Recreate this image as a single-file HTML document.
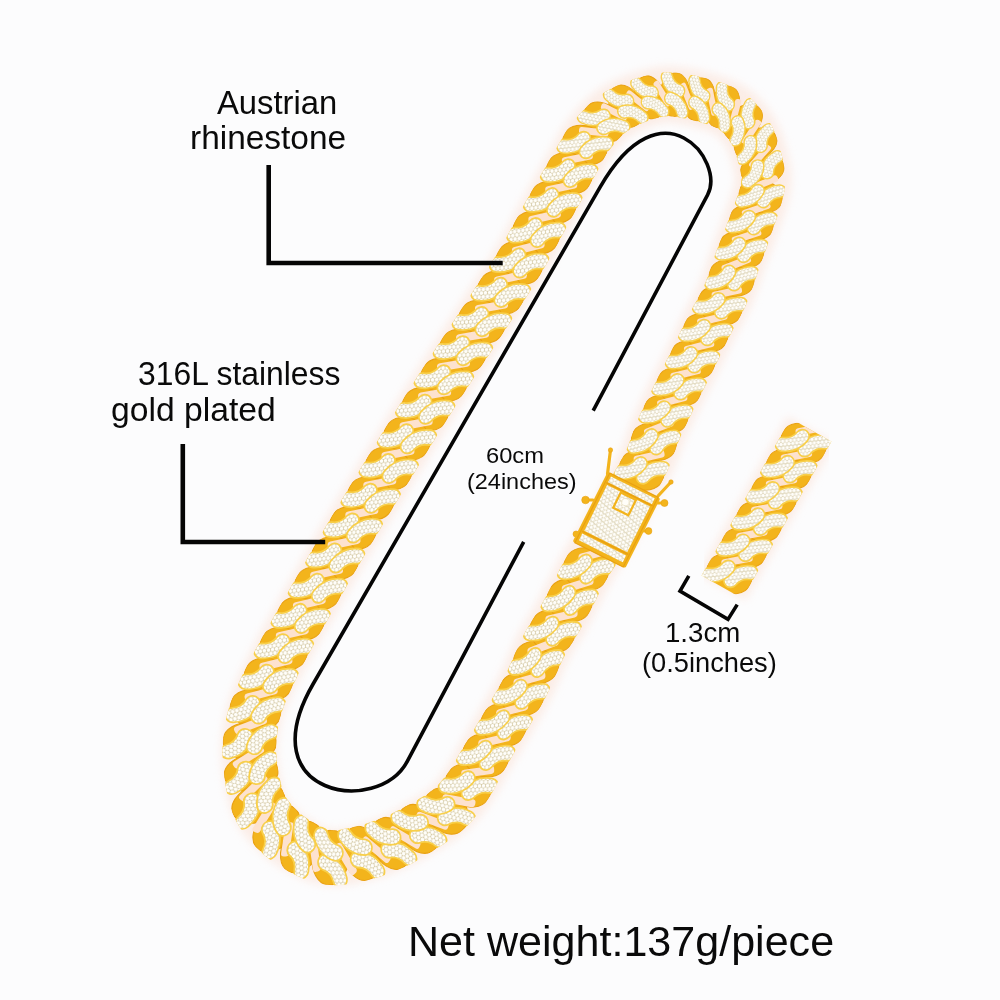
<!DOCTYPE html><html><head><meta charset="utf-8"><style>
html,body{margin:0;padding:0;width:1000px;height:1000px;overflow:hidden;background:#fcfcfd}
.t{position:absolute;font-family:"Liberation Sans",sans-serif;color:#0a0a0a;white-space:nowrap;line-height:1;transform-origin:0 0}
</style></head><body>
<svg width="1000" height="1000" viewBox="0 0 1000 1000" style="position:absolute;left:0;top:0"><defs><pattern id="st" width="4" height="6.9" patternUnits="userSpaceOnUse" patternTransform="rotate(15)"><rect width="4" height="6.9" fill="#d6cba8"/><circle cx="2" cy="1.72" r="1.78" fill="#fffefa"/><circle cx="0" cy="5.17" r="1.78" fill="#fffefa"/><circle cx="4" cy="5.17" r="1.78" fill="#fffefa"/></pattern><filter id="glow" x="-20%" y="-20%" width="140%" height="140%"><feGaussianBlur stdDeviation="4"/></filter><clipPath id="cc"><path d="M784.7,188.5 L785.0,185.4 L785.2,182.3 L785.2,179.4 L785.2,176.5 L785.1,173.7 L784.8,171.1 L784.5,168.5 L784.1,166.1 L783.7,163.8 L783.3,161.6 L782.8,159.5 L782.3,157.5 L781.8,155.7 L781.4,153.9 L781.0,152.2 L780.5,150.5 L780.0,148.5 L779.5,146.6 L778.9,144.6 L778.3,142.5 L777.7,140.5 L777.0,138.4 L776.2,136.3 L775.4,134.1 L774.6,132.0 L773.6,129.8 L772.6,127.6 L771.5,125.4 L770.3,123.2 L769.0,121.0 L767.7,118.8 L766.4,117.0 L765.3,115.4 L764.1,113.7 L762.9,112.0 L761.5,110.2 L760.1,108.3 L758.5,106.4 L756.8,104.4 L754.9,102.4 L752.9,100.5 L750.8,98.5 L748.5,96.6 L746.0,94.7 L743.5,92.9 L740.7,91.2 L737.8,89.6 L734.8,88.0 L731.7,86.6 L728.4,85.3 L725.1,84.0 L721.7,82.8 L718.2,81.7 L714.6,80.6 L711.0,79.6 L707.4,78.6 L703.7,77.7 L700.1,76.9 L696.5,76.1 L693.0,75.3 L689.6,74.7 L686.3,74.1 L683.1,73.6 L680.0,73.1 L677.1,72.8 L674.2,72.6 L671.4,72.4 L668.7,72.4 L666.0,72.4 L663.4,72.5 L660.9,72.7 L658.4,73.0 L656.0,73.4 L653.8,73.8 L651.6,74.2 L649.5,74.7 L647.5,75.2 L645.5,75.8 L643.5,76.3 L641.4,76.9 L639.0,77.6 L636.6,78.3 L634.1,79.1 L631.6,79.9 L629.1,80.8 L626.6,81.7 L624.0,82.7 L621.4,83.8 L618.9,84.9 L616.3,86.0 L613.7,87.3 L611.2,88.6 L608.7,89.9 L606.1,91.3 L603.7,92.8 L601.2,94.5 L598.7,96.2 L596.4,98.0 L594.1,99.8 L592.0,101.6 L590.0,103.5 L588.0,105.3 L586.1,107.2 L584.3,109.0 L582.6,110.9 L581.0,112.7 L579.4,114.5 L577.9,116.2 L576.5,117.8 L575.1,119.4 L573.9,120.9 L572.6,122.5 L571.2,124.2 L570.0,125.7 L568.8,127.3 L567.7,128.8 L566.7,130.3 L565.8,131.8 L564.9,133.2 L564.2,134.5 L563.5,135.7 L562.8,136.9 L562.1,138.1 L561.4,139.4 L560.6,140.9 L559.7,142.4 L558.6,144.2 L557.4,146.3 L556.0,148.8 L554.4,151.5 L552.7,154.3 L550.9,157.4 L549.1,160.6 L547.2,163.9 L545.2,167.4 L543.2,170.9 L541.1,174.5 L539.1,178.1 L537.0,181.7 L534.9,185.4 L532.9,189.0 L530.9,192.5 L528.9,196.0 L527.0,199.4 L525.1,202.7 L523.3,206.1 L521.5,209.4 L519.7,212.6 L518.0,215.8 L516.3,219.0 L514.6,222.2 L512.9,225.4 L511.2,228.5 L509.5,231.7 L507.8,234.8 L506.0,238.0 L504.2,241.2 L502.3,244.5 L500.4,247.7 L498.5,251.1 L496.4,254.5 L494.3,258.0 L492.1,261.4 L489.9,265.0 L487.7,268.5 L485.4,272.1 L483.0,275.8 L480.6,279.5 L478.2,283.2 L475.7,287.0 L473.2,290.9 L470.7,294.8 L468.1,298.7 L465.5,302.8 L462.8,306.9 L460.1,311.0 L457.5,315.1 L454.7,319.4 L451.8,323.8 L448.9,328.2 L446.0,332.7 L443.0,337.3 L440.0,341.9 L436.9,346.6 L433.9,351.2 L430.8,355.9 L427.8,360.6 L424.8,365.2 L421.8,369.8 L418.9,374.3 L416.0,378.8 L413.2,383.2 L410.5,387.4 L407.8,391.7 L405.2,395.8 L402.7,399.9 L400.1,404.0 L397.6,408.0 L395.1,412.1 L392.7,416.0 L390.2,420.0 L387.8,424.0 L385.3,428.0 L382.9,432.0 L380.4,436.1 L377.9,440.2 L375.4,444.3 L372.8,448.5 L370.2,452.7 L367.6,457.0 L364.9,461.4 L362.3,465.8 L359.6,470.2 L356.9,474.6 L354.2,479.1 L351.5,483.6 L348.7,488.0 L346.1,492.5 L343.4,497.0 L340.7,501.4 L338.1,505.8 L335.5,510.2 L332.9,514.5 L330.3,518.8 L327.8,523.0 L325.3,527.3 L322.9,531.5 L320.4,535.7 L318.0,539.8 L315.6,544.0 L313.2,548.1 L310.8,552.2 L308.5,556.3 L306.2,560.4 L303.9,564.4 L301.6,568.4 L299.3,572.4 L297.0,576.3 L294.8,580.3 L292.5,584.1 L290.3,588.0 L288.1,591.9 L285.9,595.7 L283.6,599.6 L281.4,603.5 L279.2,607.3 L277.0,611.1 L274.8,614.9 L272.7,618.7 L270.6,622.4 L268.5,626.1 L266.5,629.7 L264.5,633.3 L262.5,636.8 L260.6,640.3 L258.8,643.7 L257.0,646.9 L255.3,650.1 L253.6,653.3 L251.9,656.5 L250.3,659.5 L248.7,662.6 L247.2,665.6 L245.7,668.5 L244.2,671.5 L242.8,674.3 L241.4,677.2 L240.1,680.0 L238.8,682.7 L237.5,685.5 L236.3,688.2 L235.2,690.8 L234.2,693.3 L233.2,695.8 L232.3,698.2 L231.4,700.5 L230.6,702.8 L229.8,705.0 L229.1,707.3 L228.5,709.5 L227.9,711.6 L227.3,713.8 L226.8,715.9 L226.3,718.0 L225.9,720.1 L225.5,722.1 L225.1,724.2 L224.8,726.3 L224.4,728.5 L224.1,730.7 L223.8,733.0 L223.5,735.3 L223.2,737.6 L223.0,740.0 L222.8,742.4 L222.7,744.8 L222.6,747.3 L222.5,749.9 L222.5,752.5 L222.5,755.1 L222.6,757.8 L222.7,760.5 L222.9,763.3 L223.2,766.0 L223.4,768.6 L223.7,771.3 L224.0,774.2 L224.4,777.2 L224.8,780.2 L225.3,783.4 L225.8,786.6 L226.4,789.8 L227.0,793.1 L227.7,796.4 L228.5,799.7 L229.4,803.0 L230.3,806.4 L231.4,809.8 L232.6,813.2 L234.0,816.5 L235.5,819.7 L237.1,822.7 L238.7,825.6 L240.4,828.3 L242.2,830.9 L244.0,833.4 L245.8,835.7 L247.6,838.0 L249.4,840.1 L251.2,842.0 L252.9,843.9 L254.7,845.7 L256.3,847.4 L258.0,849.0 L259.5,850.5 L261.2,852.1 L263.2,853.9 L265.2,855.7 L267.2,857.3 L269.2,858.9 L271.2,860.5 L273.2,862.0 L275.2,863.4 L277.2,864.7 L279.2,866.0 L281.2,867.2 L283.2,868.4 L285.1,869.6 L287.1,870.7 L289.0,871.7 L290.9,872.7 L292.7,873.6 L294.4,874.5 L296.2,875.3 L298.1,876.2 L300.0,877.1 L302.0,878.0 L304.1,878.9 L306.3,879.8 L308.5,880.6 L310.9,881.4 L313.3,882.2 L315.9,882.9 L318.5,883.5 L321.2,884.0 L323.9,884.5 L326.8,884.8 L329.7,885.1 L332.6,885.2 L335.5,885.2 L338.2,885.1 L341.0,884.9 L343.6,884.7 L346.2,884.4 L348.8,884.1 L351.3,883.7 L353.8,883.2 L356.2,882.8 L358.6,882.3 L360.9,881.8 L363.2,881.3 L365.4,880.7 L367.6,880.2 L369.9,879.6 L372.3,879.0 L374.7,878.3 L377.1,877.6 L379.5,876.8 L381.8,876.0 L384.2,875.2 L386.5,874.4 L388.8,873.6 L391.0,872.7 L393.3,871.8 L395.5,870.9 L397.6,870.0 L399.8,869.1 L401.9,868.1 L404.0,867.2 L406.0,866.2 L408.2,865.2 L410.2,864.2 L412.3,863.2 L414.2,862.1 L416.2,861.1 L418.1,860.0 L419.9,859.0 L421.7,857.9 L423.5,856.8 L425.3,855.7 L427.0,854.6 L428.8,853.6 L430.5,852.5 L432.2,851.4 L433.8,850.3 L435.5,849.2 L437.1,848.2 L438.7,847.1 L440.5,846.0 L442.3,844.9 L444.1,843.7 L446.0,842.4 L447.9,841.2 L449.8,839.9 L451.7,838.5 L453.7,837.1 L455.7,835.7 L457.7,834.2 L459.7,832.6 L461.7,830.9 L463.6,829.2 L465.6,827.5 L467.4,825.7 L469.1,824.0 L470.8,822.2 L472.4,820.4 L473.9,818.6 L475.4,816.8 L476.8,815.1 L478.2,813.3 L479.5,811.5 L480.8,809.8 L482.0,808.1 L483.2,806.4 L484.4,804.7 L485.5,803.0 L486.6,801.4 L487.8,799.6 L489.1,797.6 L490.3,795.7 L491.4,793.9 L492.5,792.0 L493.5,790.2 L494.4,788.5 L495.4,786.8 L496.3,785.1 L497.1,783.4 L498.0,781.8 L498.8,780.1 L499.7,778.5 L500.6,776.9 L501.4,775.3 L502.3,773.6 L503.3,771.8 L504.4,769.9 L505.5,767.9 L506.7,765.9 L507.8,763.8 L509.0,761.7 L510.3,759.5 L511.5,757.3 L512.8,755.0 L514.1,752.8 L515.4,750.5 L516.7,748.2 L518.0,745.8 L519.3,743.5 L520.7,741.2 L522.0,738.8 L523.3,736.5 L524.6,734.2 L526.0,731.9 L527.3,729.5 L528.7,727.1 L530.1,724.7 L531.6,722.2 L533.0,719.7 L534.5,717.2 L536.0,714.7 L537.5,712.1 L538.9,709.5 L540.4,706.9 L541.8,704.3 L543.3,701.7 L544.7,699.0 L546.1,696.3 L547.4,693.6 L548.8,690.8 L550.0,688.1 L551.2,685.5 L552.4,682.8 L553.5,680.2 L554.6,677.7 L555.7,675.2 L556.8,672.8 L557.8,670.4 L558.8,668.1 L559.8,665.9 L560.8,663.7 L561.7,661.6 L562.7,659.6 L563.7,657.7 L564.7,655.8 L565.7,653.9 L566.7,652.1 L567.7,650.3 L568.8,648.5 L569.9,646.6 L571.0,644.8 L572.2,642.9 L573.4,640.9 L574.7,638.9 L575.9,636.8 L577.2,634.6 L578.6,632.4 L580.0,630.0 L581.4,627.5 L582.8,625.0 L584.2,622.3 L585.7,619.6 L587.2,616.7 L588.7,613.8 L590.2,610.9 L591.7,607.9 L593.2,604.9 L594.8,601.9 L596.3,599.0 L597.7,596.1 L599.2,593.2 L600.6,590.5 L601.9,588.0 L603.2,585.5 L604.4,583.3 L605.5,581.3 L606.6,579.4 L607.7,577.6 L608.6,576.0 L609.6,574.5 L610.5,573.0 L611.4,571.6 L612.3,570.3 L613.2,569.0 L614.1,567.6 L615.0,566.3 L616.0,564.9 L617.0,563.5 L618.0,562.0 L619.0,560.5 L620.0,558.8 L621.0,557.3 L622.0,555.8 L623.0,554.3 L623.9,552.8 L624.9,551.3 L625.9,549.8 L626.9,548.2 L627.9,546.7 L628.9,545.1 L629.9,543.5 L631.0,541.9 L632.0,540.2 L633.0,538.5 L634.1,536.8 L635.1,535.0 L636.1,533.3 L637.1,531.4 L638.1,529.5 L639.1,527.7 L640.0,525.8 L640.9,524.0 L641.8,522.2 L642.7,520.4 L643.5,518.6 L644.3,516.8 L645.1,515.0 L645.9,513.3 L646.7,511.5 L647.5,509.8 L648.3,508.1 L649.2,506.3 L650.0,504.6 L650.8,502.9 L651.7,501.2 L652.6,499.3 L653.6,497.5 L654.6,495.5 L655.7,493.5 L656.8,491.5 L657.9,489.4 L659.0,487.3 L660.2,485.2 L661.3,483.0 L662.4,480.8 L663.6,478.5 L664.7,476.3 L665.8,474.0 L666.9,471.7 L668.0,469.4 L669.0,467.0 L670.0,464.8 L670.8,462.6 L671.7,460.5 L672.4,458.4 L673.1,456.4 L673.8,454.5 L674.4,452.7 L675.1,450.9 L675.7,449.2 L676.3,447.5 L676.9,445.8 L677.5,444.2 L678.1,442.6 L678.8,440.9 L679.5,439.2 L680.3,437.3 L681.2,435.3 L682.1,433.3 L683.0,431.3 L684.0,429.2 L685.0,427.1 L686.0,424.9 L687.1,422.7 L688.1,420.6 L689.2,418.3 L690.3,416.1 L691.4,413.9 L692.4,411.7 L693.5,409.5 L694.6,407.3 L695.7,405.1 L696.7,403.0 L697.7,400.9 L698.8,398.8 L699.8,396.7 L700.9,394.6 L702.0,392.4 L703.0,390.3 L704.1,388.2 L705.2,386.1 L706.3,383.9 L707.3,381.8 L708.4,379.6 L709.5,377.5 L710.6,375.4 L711.6,373.2 L712.7,371.1 L713.7,369.0 L714.7,366.9 L715.7,364.8 L716.7,362.8 L717.6,360.8 L718.6,358.8 L719.5,356.9 L720.4,354.9 L721.3,353.0 L722.2,351.0 L723.2,349.1 L724.1,347.2 L725.0,345.2 L726.0,343.3 L726.9,341.3 L727.9,339.4 L728.9,337.5 L729.9,335.6 L731.0,333.5 L732.1,331.5 L733.2,329.3 L734.4,327.2 L735.7,324.9 L736.9,322.7 L738.2,320.3 L739.4,318.0 L740.7,315.6 L741.9,313.2 L743.2,310.7 L744.4,308.2 L745.6,305.6 L746.8,303.0 L747.8,300.5 L748.9,297.9 L749.8,295.4 L750.8,293.0 L751.7,290.5 L752.5,288.1 L753.3,285.8 L754.1,283.4 L754.8,281.2 L755.6,279.0 L756.3,276.8 L757.0,274.7 L757.6,272.7 L758.3,270.7 L758.9,268.8 L759.6,266.9 L760.3,265.0 L760.9,263.1 L761.6,261.3 L762.3,259.5 L762.9,257.8 L763.6,256.0 L764.2,254.2 L764.9,252.3 L765.6,250.5 L766.3,248.6 L767.0,246.6 L767.7,244.5 L768.4,242.4 L769.2,240.2 L769.9,237.9 L770.7,235.8 L771.4,233.6 L772.2,231.2 L773.1,228.7 L774.0,226.0 L775.0,223.2 L776.0,220.4 L777.0,217.4 L778.1,214.3 L779.1,211.3 L780.1,208.1 L781.0,204.9 L781.9,201.7 L782.8,198.5 L783.5,195.2 L784.2,191.8Z M740.9,183.5 L741.1,182.2 L741.2,180.9 L741.3,179.7 L741.3,178.6 L741.3,177.4 L741.2,176.3 L741.1,175.1 L740.9,173.9 L740.7,172.6 L740.4,171.3 L740.1,169.9 L739.7,168.4 L739.3,166.8 L738.8,165.1 L738.4,163.3 L737.9,161.5 L737.5,159.9 L737.1,158.4 L736.7,156.9 L736.3,155.5 L735.8,154.2 L735.4,152.9 L735.0,151.6 L734.6,150.4 L734.1,149.3 L733.7,148.2 L733.2,147.1 L732.7,146.1 L732.2,145.2 L731.7,144.3 L731.2,143.4 L730.4,142.2 L729.4,140.8 L728.5,139.5 L727.6,138.3 L726.7,137.1 L726.0,136.1 L725.2,135.2 L724.5,134.3 L723.7,133.5 L723.0,132.7 L722.3,132.0 L721.5,131.3 L720.7,130.7 L719.8,130.0 L718.8,129.3 L717.7,128.7 L716.4,128.0 L714.8,127.3 L712.9,126.4 L710.6,125.6 L708.1,124.7 L705.4,123.8 L702.6,123.0 L699.6,122.1 L696.6,121.3 L693.6,120.5 L690.5,119.8 L687.5,119.1 L684.7,118.5 L681.9,118.0 L679.3,117.5 L677.0,117.1 L675.0,116.9 L673.2,116.6 L671.6,116.5 L670.2,116.4 L668.9,116.3 L667.8,116.3 L666.7,116.3 L665.7,116.4 L664.7,116.5 L663.7,116.6 L662.6,116.8 L661.4,117.1 L660.1,117.4 L658.7,117.7 L657.1,118.1 L655.4,118.6 L653.6,119.1 L652.0,119.6 L650.3,120.2 L648.5,120.8 L646.7,121.4 L644.9,122.1 L643.1,122.8 L641.3,123.6 L639.5,124.4 L637.7,125.2 L635.9,126.1 L634.3,126.9 L632.7,127.8 L631.1,128.7 L629.7,129.5 L628.4,130.4 L627.2,131.1 L626.2,131.9 L625.0,132.8 L623.9,133.8 L622.7,134.8 L621.5,136.0 L620.3,137.2 L619.1,138.4 L617.9,139.8 L616.7,141.1 L615.5,142.5 L614.3,143.9 L613.1,145.4 L611.9,146.8 L610.8,148.3 L609.6,149.8 L608.6,151.1 L607.8,152.1 L607.2,153.0 L606.7,153.7 L606.4,154.3 L606.0,154.8 L605.7,155.3 L605.4,155.9 L605.0,156.7 L604.5,157.6 L604.0,158.8 L603.3,160.1 L602.5,161.6 L601.6,163.3 L600.6,165.3 L599.4,167.4 L598.2,169.7 L596.8,172.1 L595.4,174.7 L593.8,177.6 L592.1,180.7 L590.3,183.9 L588.5,187.2 L586.6,190.6 L584.7,194.2 L582.7,197.8 L580.7,201.4 L578.7,205.1 L576.7,208.7 L574.7,212.3 L572.7,215.9 L570.8,219.3 L569.0,222.6 L567.2,225.8 L565.5,229.0 L563.8,232.2 L562.1,235.3 L560.4,238.5 L558.7,241.7 L557.0,244.9 L555.2,248.2 L553.4,251.5 L551.6,254.8 L549.7,258.2 L547.8,261.6 L545.9,265.1 L543.8,268.6 L541.7,272.3 L539.5,275.9 L537.3,279.6 L535.1,283.3 L532.8,286.9 L530.5,290.6 L528.1,294.3 L525.7,298.1 L523.3,301.8 L520.9,305.6 L518.4,309.4 L515.9,313.2 L513.4,317.1 L510.9,321.0 L508.3,324.9 L505.7,328.9 L503.1,332.9 L500.5,337.0 L497.7,341.3 L494.9,345.6 L492.0,350.0 L489.1,354.5 L486.1,359.0 L483.1,363.6 L480.1,368.2 L477.1,372.9 L474.0,377.5 L471.0,382.1 L468.0,386.7 L465.1,391.3 L462.2,395.8 L459.3,400.2 L456.5,404.6 L453.8,408.8 L451.1,413.0 L448.5,417.2 L445.9,421.3 L443.4,425.3 L440.9,429.3 L438.4,433.3 L436.0,437.3 L433.6,441.2 L431.1,445.1 L428.7,449.1 L426.3,453.1 L423.8,457.1 L421.4,461.1 L418.9,465.2 L416.3,469.3 L413.8,473.5 L411.2,477.8 L408.6,482.0 L405.9,486.4 L403.3,490.7 L400.6,495.1 L397.9,499.6 L395.2,504.0 L392.5,508.4 L389.8,512.9 L387.2,517.3 L384.5,521.7 L381.9,526.1 L379.3,530.4 L376.7,534.7 L374.2,539.0 L371.7,543.2 L369.2,547.4 L366.7,551.5 L364.3,555.7 L361.9,559.8 L359.5,563.9 L357.1,568.0 L354.7,572.1 L352.4,576.2 L350.0,580.2 L347.7,584.2 L345.4,588.2 L343.2,592.2 L340.9,596.1 L338.7,600.1 L336.5,604.0 L334.3,607.9 L332.1,611.8 L329.9,615.7 L327.7,619.5 L325.5,623.4 L323.4,627.2 L321.2,631.1 L319.1,634.8 L317.0,638.6 L315.0,642.3 L313.0,645.9 L311.1,649.5 L309.2,653.0 L307.3,656.5 L305.6,659.8 L303.9,663.1 L302.2,666.3 L300.6,669.5 L299.1,672.6 L297.5,675.7 L296.1,678.7 L294.7,681.7 L293.3,684.5 L292.0,687.3 L290.7,690.1 L289.5,692.8 L288.4,695.3 L287.3,697.9 L286.3,700.3 L285.3,702.7 L284.4,704.9 L283.6,707.1 L282.8,709.2 L282.1,711.2 L281.4,713.1 L280.9,714.9 L280.4,716.5 L280.0,718.0 L279.6,719.4 L279.3,720.7 L279.0,722.0 L278.7,723.3 L278.5,724.6 L278.3,725.9 L278.1,727.3 L277.9,728.7 L277.7,730.3 L277.5,731.9 L277.2,733.7 L277.0,735.4 L276.9,737.1 L276.7,738.8 L276.6,740.4 L276.4,742.0 L276.3,743.5 L276.3,745.1 L276.2,746.7 L276.2,748.2 L276.2,749.8 L276.2,751.4 L276.2,753.0 L276.3,754.6 L276.5,756.3 L276.6,758.1 L276.8,760.0 L277.1,762.2 L277.4,764.5 L277.7,766.9 L278.1,769.3 L278.5,771.7 L278.9,774.1 L279.4,776.6 L279.9,779.0 L280.4,781.3 L280.9,783.5 L281.4,785.7 L282.0,787.6 L282.5,789.5 L283.0,791.0 L283.5,792.4 L284.0,793.5 L284.5,794.6 L285.0,795.6 L285.6,796.7 L286.2,797.8 L286.9,798.8 L287.7,799.9 L288.5,801.0 L289.4,802.2 L290.4,803.3 L291.4,804.5 L292.5,805.7 L293.7,806.9 L294.9,808.2 L296.2,809.5 L297.6,810.8 L298.8,811.9 L299.7,812.8 L300.7,813.6 L301.7,814.5 L302.7,815.4 L303.8,816.2 L304.9,817.0 L306.0,817.8 L307.2,818.6 L308.3,819.4 L309.5,820.1 L310.8,820.9 L312.0,821.6 L313.3,822.3 L314.6,823.0 L315.9,823.7 L317.3,824.4 L318.7,825.1 L320.1,825.8 L321.4,826.4 L322.6,827.0 L323.7,827.5 L324.7,827.9 L325.7,828.3 L326.6,828.7 L327.4,829.0 L328.2,829.2 L328.9,829.5 L329.6,829.6 L330.3,829.8 L331.0,829.9 L331.6,830.0 L332.3,830.1 L333.1,830.2 L334.0,830.2 L335.0,830.2 L336.2,830.1 L337.5,830.0 L338.9,829.9 L340.4,829.7 L341.9,829.4 L343.5,829.1 L345.2,828.8 L347.0,828.5 L348.8,828.1 L350.6,827.7 L352.5,827.2 L354.4,826.8 L356.1,826.4 L357.7,826.0 L359.4,825.6 L361.0,825.1 L362.8,824.6 L364.5,824.1 L366.3,823.5 L368.1,822.9 L369.9,822.3 L371.7,821.7 L373.5,821.0 L375.3,820.4 L377.1,819.7 L378.8,819.0 L380.6,818.3 L382.3,817.6 L384.0,817.0 L385.5,816.3 L387.0,815.7 L388.5,815.0 L390.0,814.4 L391.5,813.7 L392.9,813.0 L394.4,812.3 L395.9,811.5 L397.4,810.8 L398.9,810.0 L400.5,809.2 L402.0,808.4 L403.6,807.5 L405.2,806.6 L406.8,805.7 L408.5,804.8 L410.3,803.8 L412.1,802.8 L413.8,801.8 L415.5,800.9 L417.1,799.9 L418.8,799.0 L420.3,798.1 L421.9,797.2 L423.4,796.3 L424.8,795.4 L426.1,794.5 L427.4,793.7 L428.7,792.9 L429.8,792.1 L430.8,791.3 L431.8,790.5 L432.9,789.7 L433.9,788.8 L434.9,787.9 L435.9,786.9 L436.9,785.9 L438.0,784.9 L439.0,783.8 L440.0,782.7 L441.0,781.5 L442.0,780.3 L443.1,779.1 L444.1,777.8 L445.1,776.5 L446.2,775.1 L447.2,773.7 L448.2,772.4 L449.0,771.3 L449.8,770.2 L450.6,769.0 L451.4,767.8 L452.2,766.6 L453.0,765.2 L453.8,763.9 L454.6,762.4 L455.4,760.9 L456.3,759.3 L457.3,757.6 L458.2,755.9 L459.3,754.1 L460.4,752.1 L461.5,750.2 L462.7,748.2 L463.8,746.2 L465.0,744.3 L466.3,742.2 L467.5,740.2 L468.8,738.1 L470.1,735.9 L471.4,733.8 L472.7,731.6 L474.1,729.4 L475.4,727.1 L476.7,724.9 L478.1,722.6 L479.4,720.4 L480.8,718.1 L482.1,715.8 L483.5,713.5 L484.9,711.1 L486.3,708.7 L487.7,706.3 L489.1,703.9 L490.5,701.5 L491.9,699.1 L493.3,696.7 L494.7,694.3 L496.1,691.9 L497.5,689.5 L498.8,687.1 L500.1,684.8 L501.4,682.4 L502.6,680.1 L503.8,677.9 L504.9,675.7 L506.0,673.5 L507.1,671.3 L508.2,669.1 L509.2,666.8 L510.3,664.4 L511.3,662.0 L512.4,659.5 L513.4,657.0 L514.5,654.5 L515.6,652.0 L516.8,649.4 L517.9,646.8 L519.1,644.2 L520.3,641.6 L521.6,638.9 L522.9,636.3 L524.3,633.8 L525.6,631.4 L526.9,629.1 L528.1,626.9 L529.4,624.8 L530.6,622.7 L531.9,620.7 L533.1,618.7 L534.2,616.8 L535.4,614.9 L536.6,613.0 L537.7,611.1 L538.9,609.2 L540.0,607.2 L541.2,605.2 L542.4,603.0 L543.6,600.7 L545.0,598.2 L546.4,595.6 L547.8,592.8 L549.3,590.0 L550.8,587.0 L552.3,584.1 L553.8,581.1 L555.3,578.1 L556.9,575.1 L558.4,572.2 L559.8,569.3 L561.3,566.5 L562.7,563.8 L564.1,561.2 L565.5,558.7 L566.7,556.4 L567.9,554.3 L569.1,552.3 L570.2,550.3 L571.3,548.5 L572.3,546.8 L573.3,545.2 L574.3,543.7 L575.2,542.2 L576.1,540.8 L576.9,539.4 L577.7,538.1 L578.5,536.8 L579.3,535.5 L580.1,534.2 L581.0,532.7 L581.9,531.1 L582.9,529.5 L583.8,527.9 L584.7,526.4 L585.6,524.8 L586.5,523.3 L587.4,521.8 L588.3,520.3 L589.1,518.8 L590.0,517.3 L590.8,515.9 L591.6,514.4 L592.5,513.0 L593.3,511.5 L594.1,510.0 L594.9,508.6 L595.7,507.1 L596.5,505.7 L597.3,504.2 L598.1,502.6 L598.9,501.0 L599.7,499.4 L600.6,497.8 L601.4,496.1 L602.3,494.3 L603.2,492.6 L604.1,490.8 L605.1,488.9 L606.1,487.0 L607.1,485.1 L608.1,483.1 L609.2,481.1 L610.3,479.1 L611.4,477.0 L612.6,475.0 L613.7,472.9 L614.9,470.9 L616.0,468.9 L617.2,466.9 L618.3,464.9 L619.4,463.0 L620.5,461.1 L621.6,459.2 L622.6,457.4 L623.5,455.6 L624.4,453.8 L625.2,452.2 L626.0,450.6 L626.7,449.1 L627.3,447.6 L628.0,446.1 L628.6,444.5 L629.2,442.9 L629.8,441.2 L630.4,439.5 L631.0,437.7 L631.6,435.8 L632.3,433.9 L633.0,431.9 L633.8,429.8 L634.6,427.6 L635.4,425.4 L636.4,423.1 L637.3,420.8 L638.3,418.6 L639.3,416.4 L640.3,414.1 L641.3,411.9 L642.4,409.6 L643.5,407.3 L644.5,405.0 L645.6,402.8 L646.7,400.5 L647.8,398.2 L648.9,395.9 L650.0,393.7 L651.1,391.5 L652.2,389.3 L653.3,387.1 L654.3,384.9 L655.4,382.7 L656.5,380.5 L657.6,378.3 L658.7,376.1 L659.8,373.9 L660.9,371.7 L662.0,369.6 L663.0,367.4 L664.1,365.3 L665.2,363.2 L666.2,361.1 L667.3,359.0 L668.3,357.0 L669.3,354.9 L670.4,352.9 L671.3,350.9 L672.3,348.9 L673.3,347.0 L674.2,345.0 L675.1,343.1 L676.1,341.1 L677.0,339.1 L677.9,337.2 L678.8,335.2 L679.8,333.2 L680.7,331.2 L681.7,329.2 L682.7,327.1 L683.7,325.1 L684.7,323.0 L685.8,320.8 L686.9,318.6 L688.1,316.3 L689.3,314.0 L690.5,311.7 L691.7,309.5 L692.9,307.2 L694.1,305.0 L695.3,302.9 L696.5,300.7 L697.6,298.6 L698.7,296.5 L699.8,294.5 L700.8,292.5 L701.8,290.5 L702.8,288.6 L703.6,286.8 L704.4,285.0 L705.2,283.1 L706.0,281.3 L706.7,279.3 L707.5,277.3 L708.2,275.3 L708.9,273.2 L709.6,271.1 L710.4,269.0 L711.1,266.8 L711.8,264.6 L712.5,262.4 L713.2,260.2 L714.0,257.9 L714.8,255.6 L715.6,253.3 L716.4,251.1 L717.2,249.0 L718.0,246.9 L718.7,245.0 L719.5,243.1 L720.2,241.3 L721.0,239.5 L721.7,237.7 L722.4,236.0 L723.1,234.3 L723.8,232.5 L724.5,230.8 L725.2,229.0 L725.9,227.2 L726.6,225.3 L727.3,223.3 L728.1,221.0 L729.1,218.5 L730.0,215.9 L731.0,213.3 L732.0,210.6 L733.0,208.0 L734.0,205.3 L735.0,202.6 L736.0,200.0 L736.9,197.4 L737.8,194.9 L738.6,192.5 L739.3,190.3 L739.9,188.2 L740.3,186.4 L740.7,184.8Z" clip-rule="evenodd"/></clipPath><clipPath id="pc"><polygon points="742.4,598.6 831.4,441.6 790.6,418.4 701.6,575.4"/></clipPath></defs><path d="M762.8,186.0 L763.1,183.8 L763.2,181.6 L763.3,179.6 L763.3,177.5 L763.2,175.6 L763.0,173.7 L762.8,171.8 L762.5,170.0 L762.2,168.2 L761.8,166.4 L761.4,164.7 L761.0,163.0 L760.6,161.2 L760.1,159.5 L759.7,157.8 L759.2,156.0 L758.7,154.2 L758.3,152.5 L757.8,150.8 L757.3,149.0 L756.8,147.3 L756.2,145.6 L755.6,143.9 L755.0,142.3 L754.3,140.6 L753.6,139.0 L752.9,137.4 L752.1,135.8 L751.3,134.2 L750.4,132.6 L749.4,131.1 L748.4,129.6 L747.4,128.1 L746.3,126.6 L745.2,125.1 L744.1,123.7 L743.0,122.2 L741.8,120.8 L740.6,119.4 L739.3,118.0 L738.0,116.6 L736.5,115.3 L735.0,114.0 L733.4,112.7 L731.6,111.4 L729.7,110.3 L727.7,109.1 L725.6,108.0 L723.3,106.9 L720.7,105.9 L717.9,104.8 L714.9,103.8 L711.8,102.8 L708.6,101.8 L705.3,100.9 L702.0,100.0 L698.7,99.1 L695.3,98.3 L692.0,97.6 L688.8,96.9 L685.8,96.3 L682.8,95.8 L680.1,95.4 L677.5,95.0 L675.1,94.7 L672.9,94.5 L670.8,94.4 L668.8,94.3 L666.9,94.4 L665.1,94.4 L663.3,94.6 L661.6,94.8 L659.9,95.0 L658.2,95.3 L656.5,95.7 L654.8,96.0 L653.1,96.5 L651.3,97.0 L649.4,97.5 L647.5,98.0 L645.5,98.6 L643.4,99.2 L641.3,99.9 L639.2,100.7 L637.0,101.4 L634.8,102.3 L632.6,103.2 L630.4,104.1 L628.3,105.1 L626.1,106.1 L624.0,107.1 L621.9,108.2 L619.9,109.3 L617.9,110.4 L616.0,111.6 L614.2,112.8 L612.4,114.1 L610.7,115.4 L609.0,116.8 L607.4,118.2 L605.7,119.7 L604.2,121.2 L602.6,122.8 L601.1,124.4 L599.7,126.0 L598.2,127.6 L596.9,129.2 L595.5,130.8 L594.2,132.3 L593.0,133.9 L591.8,135.4 L590.6,136.8 L589.5,138.1 L588.6,139.4 L587.8,140.5 L587.0,141.6 L586.4,142.6 L585.8,143.6 L585.2,144.6 L584.6,145.6 L584.0,146.7 L583.4,147.8 L582.7,149.1 L581.9,150.5 L581.1,152.1 L580.1,153.8 L579.0,155.8 L577.8,158.0 L576.4,160.4 L574.9,163.1 L573.3,166.0 L571.5,169.0 L569.7,172.2 L567.8,175.6 L565.9,179.0 L563.9,182.5 L561.9,186.1 L559.9,189.8 L557.8,193.4 L555.8,197.0 L553.8,200.6 L551.8,204.2 L549.9,207.6 L548.0,211.0 L546.2,214.3 L544.4,217.5 L542.7,220.8 L540.9,224.0 L539.2,227.2 L537.5,230.4 L535.8,233.6 L534.1,236.8 L532.3,240.0 L530.6,243.2 L528.8,246.5 L526.9,249.8 L525.0,253.2 L523.1,256.6 L521.1,260.0 L519.0,263.5 L516.9,267.0 L514.7,270.6 L512.5,274.2 L510.2,277.8 L507.9,281.4 L505.6,285.1 L503.2,288.8 L500.8,292.5 L498.3,296.3 L495.8,300.1 L493.3,304.0 L490.8,307.9 L488.2,311.8 L485.6,315.8 L483.0,319.9 L480.3,324.0 L477.6,328.2 L474.8,332.5 L471.9,336.9 L469.0,341.4 L466.1,345.9 L463.1,350.5 L460.0,355.1 L457.0,359.7 L454.0,364.4 L450.9,369.0 L447.9,373.6 L444.9,378.2 L442.0,382.8 L439.1,387.3 L436.3,391.7 L433.5,396.0 L430.8,400.2 L428.2,404.4 L425.6,408.5 L423.0,412.6 L420.5,416.7 L418.0,420.7 L415.6,424.7 L413.1,428.6 L410.7,432.6 L408.2,436.6 L405.8,440.6 L403.3,444.6 L400.9,448.6 L398.4,452.7 L395.9,456.8 L393.3,461.0 L390.7,465.2 L388.1,469.5 L385.4,473.9 L382.8,478.3 L380.1,482.7 L377.4,487.1 L374.7,491.5 L372.0,496.0 L369.3,500.5 L366.6,504.9 L363.9,509.3 L361.3,513.7 L358.7,518.1 L356.1,522.5 L353.5,526.8 L351.0,531.0 L348.5,535.2 L346.0,539.4 L343.6,543.6 L341.2,547.7 L338.7,551.9 L336.3,556.0 L334.0,560.1 L331.6,564.2 L329.3,568.2 L326.9,572.3 L324.6,576.3 L322.4,580.3 L320.1,584.3 L317.8,588.2 L315.6,592.1 L313.4,596.0 L311.2,599.9 L309.0,603.8 L306.8,607.6 L304.6,611.5 L302.4,615.4 L300.2,619.2 L298.1,623.0 L295.9,626.8 L293.9,630.5 L291.8,634.2 L289.8,637.8 L287.8,641.4 L285.9,644.9 L284.0,648.3 L282.2,651.7 L280.5,655.0 L278.8,658.2 L277.2,661.4 L275.6,664.5 L274.0,667.6 L272.5,670.6 L271.0,673.6 L269.6,676.5 L268.2,679.3 L266.9,682.1 L265.6,684.8 L264.3,687.5 L263.2,690.1 L262.0,692.7 L261.0,695.2 L260.0,697.6 L259.0,700.0 L258.1,702.3 L257.3,704.4 L256.6,706.5 L255.9,708.5 L255.3,710.4 L254.7,712.2 L254.2,714.0 L253.7,715.8 L253.3,717.5 L252.9,719.2 L252.5,720.9 L252.2,722.6 L251.9,724.4 L251.6,726.2 L251.3,728.1 L251.0,730.0 L250.7,732.0 L250.5,733.9 L250.2,735.9 L250.0,737.8 L249.8,739.8 L249.7,741.8 L249.5,743.7 L249.4,745.8 L249.4,747.8 L249.3,749.8 L249.3,751.9 L249.4,754.0 L249.5,756.2 L249.6,758.4 L249.8,760.7 L250.0,763.0 L250.3,765.4 L250.6,767.9 L250.9,770.5 L251.3,773.2 L251.7,776.0 L252.1,778.8 L252.6,781.6 L253.1,784.4 L253.7,787.2 L254.3,790.0 L255.0,792.7 L255.7,795.3 L256.4,797.9 L257.2,800.4 L258.1,802.8 L259.0,805.0 L260.0,807.1 L261.0,809.2 L262.1,811.1 L263.3,813.0 L264.5,814.9 L265.8,816.7 L267.1,818.4 L268.5,820.1 L269.9,821.7 L271.3,823.3 L272.7,824.8 L274.2,826.3 L275.6,827.8 L277.1,829.2 L278.6,830.6 L280.0,832.0 L281.5,833.4 L282.9,834.7 L284.4,835.9 L285.9,837.2 L287.5,838.3 L289.0,839.5 L290.6,840.6 L292.2,841.6 L293.8,842.7 L295.4,843.7 L297.0,844.6 L298.6,845.6 L300.2,846.5 L301.8,847.3 L303.4,848.2 L305.0,849.0 L306.6,849.8 L308.2,850.6 L309.7,851.3 L311.3,852.1 L312.8,852.8 L314.4,853.4 L316.0,854.1 L317.6,854.7 L319.2,855.2 L320.8,855.7 L322.4,856.2 L324.1,856.6 L325.7,856.9 L327.5,857.2 L329.2,857.4 L331.0,857.6 L332.8,857.7 L334.7,857.7 L336.6,857.7 L338.6,857.5 L340.6,857.4 L342.6,857.1 L344.6,856.9 L346.6,856.5 L348.7,856.2 L350.7,855.8 L352.8,855.4 L354.9,854.9 L356.9,854.5 L359.0,854.0 L361.0,853.5 L363.0,853.0 L365.0,852.5 L367.0,851.9 L369.1,851.3 L371.1,850.7 L373.2,850.0 L375.2,849.4 L377.3,848.7 L379.3,847.9 L381.3,847.2 L383.4,846.4 L385.4,845.6 L387.4,844.8 L389.3,844.0 L391.2,843.2 L393.1,842.4 L395.0,841.6 L396.8,840.8 L398.6,840.0 L400.4,839.1 L402.1,838.3 L403.8,837.4 L405.5,836.5 L407.2,835.6 L408.8,834.7 L410.5,833.8 L412.1,832.9 L413.8,831.9 L415.4,831.0 L417.0,830.0 L418.7,829.0 L420.3,828.0 L422.0,827.0 L423.7,826.0 L425.4,824.9 L427.1,823.9 L428.9,822.9 L430.6,821.8 L432.4,820.7 L434.1,819.6 L435.8,818.5 L437.5,817.4 L439.2,816.3 L440.9,815.1 L442.6,813.9 L444.2,812.7 L445.7,811.5 L447.2,810.3 L448.7,809.0 L450.1,807.7 L451.5,806.4 L452.8,805.0 L454.1,803.7 L455.4,802.3 L456.7,800.9 L457.9,799.4 L459.1,798.0 L460.3,796.5 L461.4,795.1 L462.5,793.6 L463.7,792.1 L464.8,790.6 L465.8,789.1 L466.9,787.5 L468.0,786.0 L469.0,784.5 L470.0,783.0 L471.0,781.4 L471.9,779.9 L472.8,778.4 L473.7,776.9 L474.6,775.3 L475.4,773.8 L476.3,772.2 L477.2,770.5 L478.1,768.9 L479.0,767.2 L479.9,765.5 L480.9,763.7 L481.9,761.9 L483.0,760.0 L484.1,758.1 L485.3,756.1 L486.5,754.1 L487.7,752.0 L488.9,749.9 L490.2,747.7 L491.5,745.5 L492.8,743.3 L494.1,741.1 L495.4,738.8 L496.7,736.5 L498.1,734.2 L499.4,731.9 L500.7,729.6 L502.1,727.3 L503.4,725.0 L504.7,722.7 L506.1,720.3 L507.5,717.9 L508.9,715.5 L510.3,713.1 L511.8,710.7 L513.2,708.2 L514.6,705.8 L516.0,703.3 L517.5,700.8 L518.9,698.3 L520.2,695.8 L521.6,693.4 L522.9,690.9 L524.2,688.4 L525.5,686.0 L526.7,683.6 L527.9,681.1 L529.1,678.6 L530.2,676.1 L531.3,673.6 L532.4,671.1 L533.5,668.6 L534.6,666.1 L535.6,663.6 L536.7,661.2 L537.8,658.7 L538.8,656.3 L539.9,653.9 L541.0,651.6 L542.2,649.3 L543.3,647.0 L544.5,644.8 L545.6,642.7 L546.8,640.6 L547.9,638.6 L549.1,636.6 L550.3,634.7 L551.4,632.7 L552.6,630.8 L553.8,628.9 L555.0,626.9 L556.3,624.9 L557.5,622.9 L558.7,620.8 L560.0,618.6 L561.3,616.4 L562.6,614.0 L563.9,611.5 L565.3,608.9 L566.8,606.2 L568.2,603.3 L569.7,600.4 L571.2,597.5 L572.8,594.5 L574.3,591.5 L575.8,588.5 L577.3,585.6 L578.8,582.7 L580.2,579.9 L581.6,577.2 L583.0,574.7 L584.3,572.2 L585.5,570.0 L586.7,567.9 L587.8,566.0 L588.9,564.1 L589.9,562.4 L590.9,560.8 L591.9,559.2 L592.8,557.7 L593.7,556.3 L594.7,554.9 L595.5,553.5 L596.4,552.2 L597.3,550.8 L598.2,549.4 L599.1,548.0 L600.1,546.5 L601.0,545.0 L602.0,543.4 L602.9,541.9 L603.9,540.4 L604.8,538.8 L605.8,537.3 L606.7,535.8 L607.7,534.2 L608.6,532.7 L609.5,531.1 L610.5,529.6 L611.4,528.0 L612.3,526.5 L613.3,524.9 L614.2,523.3 L615.1,521.6 L616.0,520.0 L616.9,518.3 L617.8,516.7 L618.6,515.0 L619.5,513.3 L620.3,511.6 L621.2,509.9 L622.0,508.2 L622.9,506.4 L623.7,504.7 L624.6,502.9 L625.4,501.1 L626.3,499.4 L627.2,497.5 L628.1,495.7 L629.0,493.9 L630.0,492.0 L631.0,490.1 L632.0,488.2 L633.1,486.2 L634.2,484.2 L635.3,482.2 L636.4,480.2 L637.5,478.2 L638.7,476.1 L639.8,474.1 L640.9,472.0 L642.0,470.0 L643.1,468.0 L644.1,465.9 L645.1,463.9 L646.1,462.0 L647.0,460.0 L647.9,458.1 L648.7,456.2 L649.4,454.3 L650.1,452.5 L650.8,450.6 L651.5,448.8 L652.1,447.0 L652.7,445.2 L653.4,443.4 L654.0,441.5 L654.6,439.7 L655.3,437.8 L656.0,435.9 L656.8,434.0 L657.6,432.0 L658.4,430.0 L659.3,427.9 L660.2,425.9 L661.2,423.7 L662.2,421.6 L663.2,419.4 L664.2,417.2 L665.3,415.0 L666.3,412.8 L667.4,410.5 L668.5,408.3 L669.6,406.0 L670.7,403.8 L671.8,401.6 L672.9,399.4 L673.9,397.2 L675.0,395.0 L676.1,392.8 L677.1,390.7 L678.2,388.5 L679.3,386.4 L680.3,384.2 L681.4,382.1 L682.5,379.9 L683.6,377.8 L684.7,375.7 L685.7,373.6 L686.8,371.4 L687.9,369.3 L688.9,367.2 L689.9,365.1 L691.0,363.1 L692.0,361.0 L693.0,359.0 L694.0,356.9 L694.9,354.9 L695.9,352.9 L696.8,351.0 L697.8,349.0 L698.7,347.0 L699.6,345.1 L700.6,343.1 L701.5,341.1 L702.4,339.2 L703.4,337.2 L704.4,335.2 L705.4,333.1 L706.4,331.1 L707.4,329.0 L708.5,326.9 L709.6,324.8 L710.7,322.6 L711.9,320.5 L713.1,318.3 L714.3,316.1 L715.5,313.9 L716.7,311.7 L717.9,309.5 L719.1,307.3 L720.2,305.0 L721.4,302.8 L722.5,300.6 L723.6,298.4 L724.6,296.2 L725.6,294.0 L726.5,291.8 L727.4,289.6 L728.3,287.4 L729.1,285.1 L729.9,282.9 L730.7,280.7 L731.5,278.5 L732.2,276.2 L733.0,274.0 L733.7,271.8 L734.4,269.6 L735.1,267.4 L735.8,265.3 L736.5,263.2 L737.3,261.1 L738.0,259.0 L738.7,257.0 L739.5,255.0 L740.2,253.2 L740.9,251.3 L741.6,249.5 L742.3,247.7 L742.9,245.9 L743.6,244.2 L744.3,242.4 L745.0,240.5 L745.7,238.7 L746.4,236.8 L747.2,234.8 L747.9,232.8 L748.6,230.6 L749.4,228.4 L750.2,226.1 L751.1,223.6 L752.0,221.0 L753.0,218.3 L754.0,215.6 L755.0,212.8 L756.0,210.0 L757.0,207.2 L758.0,204.3 L758.9,201.5 L759.8,198.7 L760.6,196.0 L761.3,193.4 L761.9,190.8 L762.4,188.3 L762.8,186.0Z" fill="none" stroke="#fbe3d8" stroke-width="56" stroke-linejoin="round" filter="url(#glow)" opacity="0.6"/><path d="M811,430 L722,587" fill="none" stroke="#fbe3d8" stroke-width="54" filter="url(#glow)" opacity="0.6"/><g clip-path="url(#cc)"><g transform="translate(641.8,470.4) rotate(-61.8) scale(1.002,0.964)"><ellipse cx="0" cy="0" rx="18.6" ry="24" fill="#f3b41c" stroke="#e9a112" stroke-width="1"/></g><g transform="translate(653.9,441.8) rotate(-70.9) scale(0.970,0.957)"><ellipse cx="0" cy="0" rx="18.6" ry="24" fill="#f3b41c" stroke="#e9a112" stroke-width="1"/></g><g transform="translate(665.8,414.0) rotate(-64.4) scale(0.958,0.958)"><ellipse cx="0" cy="0" rx="18.6" ry="24" fill="#f3b41c" stroke="#e9a112" stroke-width="1"/></g><g transform="translate(679.0,386.8) rotate(-63.5) scale(0.960,0.958)"><ellipse cx="0" cy="0" rx="18.6" ry="24" fill="#f3b41c" stroke="#e9a112" stroke-width="1"/></g><g transform="translate(692.6,359.8) rotate(-64.0) scale(0.960,0.958)"><ellipse cx="0" cy="0" rx="18.6" ry="24" fill="#f3b41c" stroke="#e9a112" stroke-width="1"/></g><g transform="translate(705.7,332.5) rotate(-63.7) scale(0.960,0.958)"><ellipse cx="0" cy="0" rx="18.6" ry="24" fill="#f3b41c" stroke="#e9a112" stroke-width="1"/></g><g transform="translate(719.9,305.8) rotate(-62.2) scale(0.961,0.958)"><ellipse cx="0" cy="0" rx="18.6" ry="24" fill="#f3b41c" stroke="#e9a112" stroke-width="1"/></g><g transform="translate(731.6,278.0) rotate(-71.5) scale(0.955,0.959)"><ellipse cx="0" cy="0" rx="18.6" ry="24" fill="#f3b41c" stroke="#e9a112" stroke-width="1"/></g><g transform="translate(741.4,249.8) rotate(-69.0) scale(0.936,0.954)"><ellipse cx="0" cy="0" rx="18.6" ry="24" fill="#f3b41c" stroke="#e9a112" stroke-width="1"/></g><g transform="translate(751.4,222.6) rotate(-70.0) scale(0.905,0.934)"><ellipse cx="0" cy="0" rx="18.6" ry="24" fill="#f3b41c" stroke="#e9a112" stroke-width="1"/></g><g transform="translate(760.6,196.1) rotate(-73.7) scale(0.875,0.920)"><ellipse cx="0" cy="0" rx="18.6" ry="24" fill="#f3b41c" stroke="#e9a112" stroke-width="1"/></g><g transform="translate(762.4,169.3) rotate(-100.3) scale(0.846,0.915)"><ellipse cx="0" cy="0" rx="18.6" ry="24" fill="#f3b41c" stroke="#e9a112" stroke-width="1"/></g><g transform="translate(755.6,144.0) rotate(-109.2) scale(0.816,0.917)"><ellipse cx="0" cy="0" rx="18.6" ry="24" fill="#f3b41c" stroke="#e9a112" stroke-width="1"/></g><g transform="translate(743.0,122.2) rotate(-129.2) scale(0.797,0.917)"><ellipse cx="0" cy="0" rx="18.6" ry="24" fill="#f3b41c" stroke="#e9a112" stroke-width="1"/></g><g transform="translate(723.3,106.9) rotate(-155.3) scale(0.800,0.917)"><ellipse cx="0" cy="0" rx="18.6" ry="24" fill="#f3b41c" stroke="#e9a112" stroke-width="1"/></g><g transform="translate(699.3,99.3) rotate(-165.8) scale(0.800,0.917)"><ellipse cx="0" cy="0" rx="18.6" ry="24" fill="#f3b41c" stroke="#e9a112" stroke-width="1"/></g><g transform="translate(674.6,94.7) rotate(-174.9) scale(0.800,0.917)"><ellipse cx="0" cy="0" rx="18.6" ry="24" fill="#f3b41c" stroke="#e9a112" stroke-width="1"/></g><g transform="translate(649.8,97.4) rotate(164.7) scale(0.798,0.916)"><ellipse cx="0" cy="0" rx="18.6" ry="24" fill="#f3b41c" stroke="#e9a112" stroke-width="1"/></g><g transform="translate(625.7,106.2) rotate(153.8) scale(0.836,0.929)"><ellipse cx="0" cy="0" rx="18.6" ry="24" fill="#f3b41c" stroke="#e9a112" stroke-width="1"/></g><g transform="translate(603.6,121.9) rotate(134.6) scale(0.901,0.946)"><ellipse cx="0" cy="0" rx="18.6" ry="24" fill="#f3b41c" stroke="#e9a112" stroke-width="1"/></g><g transform="translate(584.9,145.0) rotate(119.4) scale(0.992,0.968)"><ellipse cx="0" cy="0" rx="18.6" ry="24" fill="#f3b41c" stroke="#e9a112" stroke-width="1"/></g><g transform="translate(569.2,173.2) rotate(119.4) scale(1.047,0.987)"><ellipse cx="0" cy="0" rx="18.6" ry="24" fill="#f3b41c" stroke="#e9a112" stroke-width="1"/></g><g transform="translate(552.8,202.4) rotate(119.2) scale(1.080,0.998)"><ellipse cx="0" cy="0" rx="18.6" ry="24" fill="#f3b41c" stroke="#e9a112" stroke-width="1"/></g><g transform="translate(536.3,232.6) rotate(118.2) scale(1.099,1.001)"><ellipse cx="0" cy="0" rx="18.6" ry="24" fill="#f3b41c" stroke="#e9a112" stroke-width="1"/></g><g transform="translate(519.3,262.9) rotate(120.7) scale(1.104,1.000)"><ellipse cx="0" cy="0" rx="18.6" ry="24" fill="#f3b41c" stroke="#e9a112" stroke-width="1"/></g><g transform="translate(500.8,292.4) rotate(122.9) scale(1.105,1.000)"><ellipse cx="0" cy="0" rx="18.6" ry="24" fill="#f3b41c" stroke="#e9a112" stroke-width="1"/></g><g transform="translate(481.9,321.6) rotate(122.9) scale(1.104,1.000)"><ellipse cx="0" cy="0" rx="18.6" ry="24" fill="#f3b41c" stroke="#e9a112" stroke-width="1"/></g><g transform="translate(462.9,350.7) rotate(123.2) scale(1.104,1.000)"><ellipse cx="0" cy="0" rx="18.6" ry="24" fill="#f3b41c" stroke="#e9a112" stroke-width="1"/></g><g transform="translate(443.9,379.8) rotate(122.9) scale(1.104,1.000)"><ellipse cx="0" cy="0" rx="18.6" ry="24" fill="#f3b41c" stroke="#e9a112" stroke-width="1"/></g><g transform="translate(425.2,409.2) rotate(122.0) scale(1.104,1.000)"><ellipse cx="0" cy="0" rx="18.6" ry="24" fill="#f3b41c" stroke="#e9a112" stroke-width="1"/></g><g transform="translate(406.9,438.8) rotate(121.5) scale(1.104,1.000)"><ellipse cx="0" cy="0" rx="18.6" ry="24" fill="#f3b41c" stroke="#e9a112" stroke-width="1"/></g><g transform="translate(388.7,468.5) rotate(121.4) scale(1.104,1.000)"><ellipse cx="0" cy="0" rx="18.6" ry="24" fill="#f3b41c" stroke="#e9a112" stroke-width="1"/></g><g transform="translate(370.7,498.2) rotate(121.2) scale(1.104,1.000)"><ellipse cx="0" cy="0" rx="18.6" ry="24" fill="#f3b41c" stroke="#e9a112" stroke-width="1"/></g><g transform="translate(352.8,528.0) rotate(120.7) scale(1.104,1.000)"><ellipse cx="0" cy="0" rx="18.6" ry="24" fill="#f3b41c" stroke="#e9a112" stroke-width="1"/></g><g transform="translate(335.2,558.0) rotate(120.1) scale(1.105,0.999)"><ellipse cx="0" cy="0" rx="18.6" ry="24" fill="#f3b41c" stroke="#e9a112" stroke-width="1"/></g><g transform="translate(317.8,588.2) rotate(119.7) scale(1.105,0.999)"><ellipse cx="0" cy="0" rx="18.6" ry="24" fill="#f3b41c" stroke="#e9a112" stroke-width="1"/></g><g transform="translate(300.7,618.4) rotate(119.6) scale(1.100,1.005)"><ellipse cx="0" cy="0" rx="18.6" ry="24" fill="#f3b41c" stroke="#e9a112" stroke-width="1"/></g><g transform="translate(283.9,648.6) rotate(118.1) scale(1.091,1.017)"><ellipse cx="0" cy="0" rx="18.6" ry="24" fill="#f3b41c" stroke="#e9a112" stroke-width="1"/></g><g transform="translate(268.4,679.0) rotate(115.9) scale(1.073,1.040)"><ellipse cx="0" cy="0" rx="18.6" ry="24" fill="#f3b41c" stroke="#e9a112" stroke-width="1"/></g><g transform="translate(255.5,709.8) rotate(108.1) scale(1.046,1.075)"><ellipse cx="0" cy="0" rx="18.6" ry="24" fill="#f3b41c" stroke="#e9a112" stroke-width="1"/></g><g transform="translate(249.7,741.6) rotate(94.7) scale(1.011,1.113)"><ellipse cx="0" cy="0" rx="18.6" ry="24" fill="#f3b41c" stroke="#e9a112" stroke-width="1"/></g><g transform="translate(251.2,772.9) rotate(82.2) scale(0.990,1.131)"><ellipse cx="0" cy="0" rx="18.6" ry="24" fill="#f3b41c" stroke="#e9a112" stroke-width="1"/></g><g transform="translate(258.3,803.2) rotate(67.8) scale(0.992,1.145)"><ellipse cx="0" cy="0" rx="18.6" ry="24" fill="#f3b41c" stroke="#e9a112" stroke-width="1"/></g><g transform="translate(276.3,828.5) rotate(44.6) scale(0.992,1.146)"><ellipse cx="0" cy="0" rx="18.6" ry="24" fill="#f3b41c" stroke="#e9a112" stroke-width="1"/></g><g transform="translate(301.3,847.1) rotate(28.4) scale(0.992,1.146)"><ellipse cx="0" cy="0" rx="18.6" ry="24" fill="#f3b41c" stroke="#e9a112" stroke-width="1"/></g><g transform="translate(330.5,857.6) rotate(5.1) scale(0.992,1.146)"><ellipse cx="0" cy="0" rx="18.6" ry="24" fill="#f3b41c" stroke="#e9a112" stroke-width="1"/></g><g transform="translate(361.3,853.4) rotate(-13.9) scale(0.992,1.146)"><ellipse cx="0" cy="0" rx="18.6" ry="24" fill="#f3b41c" stroke="#e9a112" stroke-width="1"/></g><g transform="translate(390.9,843.4) rotate(-22.7) scale(0.990,1.129)"><ellipse cx="0" cy="0" rx="18.6" ry="24" fill="#f3b41c" stroke="#e9a112" stroke-width="1"/></g><g transform="translate(418.9,828.9) rotate(-31.1) scale(1.020,1.088)"><ellipse cx="0" cy="0" rx="18.6" ry="24" fill="#f3b41c" stroke="#e9a112" stroke-width="1"/></g><g transform="translate(446.2,811.1) rotate(-39.4) scale(1.052,1.046)"><ellipse cx="0" cy="0" rx="18.6" ry="24" fill="#f3b41c" stroke="#e9a112" stroke-width="1"/></g><g transform="translate(468.2,785.7) rotate(-55.6) scale(1.088,1.000)"><ellipse cx="0" cy="0" rx="18.6" ry="24" fill="#f3b41c" stroke="#e9a112" stroke-width="1"/></g><g transform="translate(485.7,755.4) rotate(-59.7) scale(1.121,0.976)"><ellipse cx="0" cy="0" rx="18.6" ry="24" fill="#f3b41c" stroke="#e9a112" stroke-width="1"/></g><g transform="translate(503.5,724.9) rotate(-60.0) scale(1.120,0.958)"><ellipse cx="0" cy="0" rx="18.6" ry="24" fill="#f3b41c" stroke="#e9a112" stroke-width="1"/></g><g transform="translate(521.1,694.3) rotate(-61.2) scale(1.120,0.958)"><ellipse cx="0" cy="0" rx="18.6" ry="24" fill="#f3b41c" stroke="#e9a112" stroke-width="1"/></g><g transform="translate(536.2,662.5) rotate(-66.6) scale(1.120,0.958)"><ellipse cx="0" cy="0" rx="18.6" ry="24" fill="#f3b41c" stroke="#e9a112" stroke-width="1"/></g><g transform="translate(552.4,631.2) rotate(-58.4) scale(1.120,0.958)"><ellipse cx="0" cy="0" rx="18.6" ry="24" fill="#f3b41c" stroke="#e9a112" stroke-width="1"/></g><g transform="translate(569.7,600.4) rotate(-62.8) scale(1.121,0.958)"><ellipse cx="0" cy="0" rx="18.6" ry="24" fill="#f3b41c" stroke="#e9a112" stroke-width="1"/></g><g transform="translate(586.0,569.1) rotate(-60.6) scale(1.119,0.959)"><ellipse cx="0" cy="0" rx="18.6" ry="24" fill="#f3b41c" stroke="#e9a112" stroke-width="1"/></g><g transform="translate(641.8,470.4) rotate(-61.8) scale(1.002,0.964)"><g transform="translate(15.5,0) rotate(50)"><rect x="-16" y="-3.8" width="32" height="7.6" rx="3" fill="#fde2cf"/></g><g transform="translate(4.20,10.38) rotate(40)"><path d="M-11,1.5 Q0,-4.5 11,1.5" fill="none" stroke="#f8cf4a" stroke-width="15.5" stroke-linecap="round"/><path d="M-11,1.5 Q0,-4.5 11,1.5" fill="none" stroke="url(#st)" stroke-width="12.2" stroke-linecap="round"/></g><g transform="translate(-4.20,-10.38) rotate(220)"><path d="M-11,1.5 Q0,-4.5 11,1.5" fill="none" stroke="#f8cf4a" stroke-width="15.5" stroke-linecap="round"/><path d="M-11,1.5 Q0,-4.5 11,1.5" fill="none" stroke="url(#st)" stroke-width="12.2" stroke-linecap="round"/></g></g><g transform="translate(653.9,441.8) rotate(-70.9) scale(0.970,0.957)"><g transform="translate(15.5,0) rotate(50)"><rect x="-16" y="-3.8" width="32" height="7.6" rx="3" fill="#fde2cf"/></g><g transform="translate(4.20,10.38) rotate(40)"><path d="M-11,1.5 Q0,-4.5 11,1.5" fill="none" stroke="#f8cf4a" stroke-width="15.5" stroke-linecap="round"/><path d="M-11,1.5 Q0,-4.5 11,1.5" fill="none" stroke="url(#st)" stroke-width="12.2" stroke-linecap="round"/></g><g transform="translate(-4.20,-10.38) rotate(220)"><path d="M-11,1.5 Q0,-4.5 11,1.5" fill="none" stroke="#f8cf4a" stroke-width="15.5" stroke-linecap="round"/><path d="M-11,1.5 Q0,-4.5 11,1.5" fill="none" stroke="url(#st)" stroke-width="12.2" stroke-linecap="round"/></g></g><g transform="translate(665.8,414.0) rotate(-64.4) scale(0.958,0.958)"><g transform="translate(15.5,0) rotate(50)"><rect x="-16" y="-3.8" width="32" height="7.6" rx="3" fill="#fde2cf"/></g><g transform="translate(4.20,10.38) rotate(40)"><path d="M-11,1.5 Q0,-4.5 11,1.5" fill="none" stroke="#f8cf4a" stroke-width="15.5" stroke-linecap="round"/><path d="M-11,1.5 Q0,-4.5 11,1.5" fill="none" stroke="url(#st)" stroke-width="12.2" stroke-linecap="round"/></g><g transform="translate(-4.20,-10.38) rotate(220)"><path d="M-11,1.5 Q0,-4.5 11,1.5" fill="none" stroke="#f8cf4a" stroke-width="15.5" stroke-linecap="round"/><path d="M-11,1.5 Q0,-4.5 11,1.5" fill="none" stroke="url(#st)" stroke-width="12.2" stroke-linecap="round"/></g></g><g transform="translate(679.0,386.8) rotate(-63.5) scale(0.960,0.958)"><g transform="translate(15.5,0) rotate(50)"><rect x="-16" y="-3.8" width="32" height="7.6" rx="3" fill="#fde2cf"/></g><g transform="translate(4.20,10.38) rotate(40)"><path d="M-11,1.5 Q0,-4.5 11,1.5" fill="none" stroke="#f8cf4a" stroke-width="15.5" stroke-linecap="round"/><path d="M-11,1.5 Q0,-4.5 11,1.5" fill="none" stroke="url(#st)" stroke-width="12.2" stroke-linecap="round"/></g><g transform="translate(-4.20,-10.38) rotate(220)"><path d="M-11,1.5 Q0,-4.5 11,1.5" fill="none" stroke="#f8cf4a" stroke-width="15.5" stroke-linecap="round"/><path d="M-11,1.5 Q0,-4.5 11,1.5" fill="none" stroke="url(#st)" stroke-width="12.2" stroke-linecap="round"/></g></g><g transform="translate(692.6,359.8) rotate(-64.0) scale(0.960,0.958)"><g transform="translate(15.5,0) rotate(50)"><rect x="-16" y="-3.8" width="32" height="7.6" rx="3" fill="#fde2cf"/></g><g transform="translate(4.20,10.38) rotate(40)"><path d="M-11,1.5 Q0,-4.5 11,1.5" fill="none" stroke="#f8cf4a" stroke-width="15.5" stroke-linecap="round"/><path d="M-11,1.5 Q0,-4.5 11,1.5" fill="none" stroke="url(#st)" stroke-width="12.2" stroke-linecap="round"/></g><g transform="translate(-4.20,-10.38) rotate(220)"><path d="M-11,1.5 Q0,-4.5 11,1.5" fill="none" stroke="#f8cf4a" stroke-width="15.5" stroke-linecap="round"/><path d="M-11,1.5 Q0,-4.5 11,1.5" fill="none" stroke="url(#st)" stroke-width="12.2" stroke-linecap="round"/></g></g><g transform="translate(705.7,332.5) rotate(-63.7) scale(0.960,0.958)"><g transform="translate(15.5,0) rotate(50)"><rect x="-16" y="-3.8" width="32" height="7.6" rx="3" fill="#fde2cf"/></g><g transform="translate(4.20,10.38) rotate(40)"><path d="M-11,1.5 Q0,-4.5 11,1.5" fill="none" stroke="#f8cf4a" stroke-width="15.5" stroke-linecap="round"/><path d="M-11,1.5 Q0,-4.5 11,1.5" fill="none" stroke="url(#st)" stroke-width="12.2" stroke-linecap="round"/></g><g transform="translate(-4.20,-10.38) rotate(220)"><path d="M-11,1.5 Q0,-4.5 11,1.5" fill="none" stroke="#f8cf4a" stroke-width="15.5" stroke-linecap="round"/><path d="M-11,1.5 Q0,-4.5 11,1.5" fill="none" stroke="url(#st)" stroke-width="12.2" stroke-linecap="round"/></g></g><g transform="translate(719.9,305.8) rotate(-62.2) scale(0.961,0.958)"><g transform="translate(15.5,0) rotate(50)"><rect x="-16" y="-3.8" width="32" height="7.6" rx="3" fill="#fde2cf"/></g><g transform="translate(4.20,10.38) rotate(40)"><path d="M-11,1.5 Q0,-4.5 11,1.5" fill="none" stroke="#f8cf4a" stroke-width="15.5" stroke-linecap="round"/><path d="M-11,1.5 Q0,-4.5 11,1.5" fill="none" stroke="url(#st)" stroke-width="12.2" stroke-linecap="round"/></g><g transform="translate(-4.20,-10.38) rotate(220)"><path d="M-11,1.5 Q0,-4.5 11,1.5" fill="none" stroke="#f8cf4a" stroke-width="15.5" stroke-linecap="round"/><path d="M-11,1.5 Q0,-4.5 11,1.5" fill="none" stroke="url(#st)" stroke-width="12.2" stroke-linecap="round"/></g></g><g transform="translate(731.6,278.0) rotate(-71.5) scale(0.955,0.959)"><g transform="translate(15.5,0) rotate(50)"><rect x="-16" y="-3.8" width="32" height="7.6" rx="3" fill="#fde2cf"/></g><g transform="translate(4.20,10.38) rotate(40)"><path d="M-11,1.5 Q0,-4.5 11,1.5" fill="none" stroke="#f8cf4a" stroke-width="15.5" stroke-linecap="round"/><path d="M-11,1.5 Q0,-4.5 11,1.5" fill="none" stroke="url(#st)" stroke-width="12.2" stroke-linecap="round"/></g><g transform="translate(-4.20,-10.38) rotate(220)"><path d="M-11,1.5 Q0,-4.5 11,1.5" fill="none" stroke="#f8cf4a" stroke-width="15.5" stroke-linecap="round"/><path d="M-11,1.5 Q0,-4.5 11,1.5" fill="none" stroke="url(#st)" stroke-width="12.2" stroke-linecap="round"/></g></g><g transform="translate(741.4,249.8) rotate(-69.0) scale(0.936,0.954)"><g transform="translate(15.5,0) rotate(50)"><rect x="-16" y="-3.8" width="32" height="7.6" rx="3" fill="#fde2cf"/></g><g transform="translate(4.20,10.38) rotate(40)"><path d="M-11,1.5 Q0,-4.5 11,1.5" fill="none" stroke="#f8cf4a" stroke-width="15.5" stroke-linecap="round"/><path d="M-11,1.5 Q0,-4.5 11,1.5" fill="none" stroke="url(#st)" stroke-width="12.2" stroke-linecap="round"/></g><g transform="translate(-4.20,-10.38) rotate(220)"><path d="M-11,1.5 Q0,-4.5 11,1.5" fill="none" stroke="#f8cf4a" stroke-width="15.5" stroke-linecap="round"/><path d="M-11,1.5 Q0,-4.5 11,1.5" fill="none" stroke="url(#st)" stroke-width="12.2" stroke-linecap="round"/></g></g><g transform="translate(751.4,222.6) rotate(-70.0) scale(0.905,0.934)"><g transform="translate(15.5,0) rotate(50)"><rect x="-16" y="-3.8" width="32" height="7.6" rx="3" fill="#fde2cf"/></g><g transform="translate(4.20,10.38) rotate(40)"><path d="M-11,1.5 Q0,-4.5 11,1.5" fill="none" stroke="#f8cf4a" stroke-width="15.5" stroke-linecap="round"/><path d="M-11,1.5 Q0,-4.5 11,1.5" fill="none" stroke="url(#st)" stroke-width="12.2" stroke-linecap="round"/></g><g transform="translate(-4.20,-10.38) rotate(220)"><path d="M-11,1.5 Q0,-4.5 11,1.5" fill="none" stroke="#f8cf4a" stroke-width="15.5" stroke-linecap="round"/><path d="M-11,1.5 Q0,-4.5 11,1.5" fill="none" stroke="url(#st)" stroke-width="12.2" stroke-linecap="round"/></g></g><g transform="translate(760.6,196.1) rotate(-73.7) scale(0.875,0.920)"><g transform="translate(15.5,0) rotate(50)"><rect x="-16" y="-3.8" width="32" height="7.6" rx="3" fill="#fde2cf"/></g><g transform="translate(4.20,10.38) rotate(40)"><path d="M-11,1.5 Q0,-4.5 11,1.5" fill="none" stroke="#f8cf4a" stroke-width="15.5" stroke-linecap="round"/><path d="M-11,1.5 Q0,-4.5 11,1.5" fill="none" stroke="url(#st)" stroke-width="12.2" stroke-linecap="round"/></g><g transform="translate(-4.20,-10.38) rotate(220)"><path d="M-11,1.5 Q0,-4.5 11,1.5" fill="none" stroke="#f8cf4a" stroke-width="15.5" stroke-linecap="round"/><path d="M-11,1.5 Q0,-4.5 11,1.5" fill="none" stroke="url(#st)" stroke-width="12.2" stroke-linecap="round"/></g></g><g transform="translate(762.4,169.3) rotate(-100.3) scale(0.846,0.915)"><g transform="translate(15.5,0) rotate(50)"><rect x="-16" y="-3.8" width="32" height="7.6" rx="3" fill="#fde2cf"/></g><g transform="translate(4.20,10.38) rotate(40)"><path d="M-11,1.5 Q0,-4.5 11,1.5" fill="none" stroke="#f8cf4a" stroke-width="15.5" stroke-linecap="round"/><path d="M-11,1.5 Q0,-4.5 11,1.5" fill="none" stroke="url(#st)" stroke-width="12.2" stroke-linecap="round"/></g><g transform="translate(-4.20,-10.38) rotate(220)"><path d="M-11,1.5 Q0,-4.5 11,1.5" fill="none" stroke="#f8cf4a" stroke-width="15.5" stroke-linecap="round"/><path d="M-11,1.5 Q0,-4.5 11,1.5" fill="none" stroke="url(#st)" stroke-width="12.2" stroke-linecap="round"/></g></g><g transform="translate(755.6,144.0) rotate(-109.2) scale(0.816,0.917)"><g transform="translate(15.5,0) rotate(50)"><rect x="-16" y="-3.8" width="32" height="7.6" rx="3" fill="#fde2cf"/></g><g transform="translate(4.20,10.38) rotate(40)"><path d="M-11,1.5 Q0,-4.5 11,1.5" fill="none" stroke="#f8cf4a" stroke-width="15.5" stroke-linecap="round"/><path d="M-11,1.5 Q0,-4.5 11,1.5" fill="none" stroke="url(#st)" stroke-width="12.2" stroke-linecap="round"/></g><g transform="translate(-4.20,-10.38) rotate(220)"><path d="M-11,1.5 Q0,-4.5 11,1.5" fill="none" stroke="#f8cf4a" stroke-width="15.5" stroke-linecap="round"/><path d="M-11,1.5 Q0,-4.5 11,1.5" fill="none" stroke="url(#st)" stroke-width="12.2" stroke-linecap="round"/></g></g><g transform="translate(743.0,122.2) rotate(-129.2) scale(0.797,0.917)"><g transform="translate(15.5,0) rotate(50)"><rect x="-16" y="-3.8" width="32" height="7.6" rx="3" fill="#fde2cf"/></g><g transform="translate(4.20,10.38) rotate(40)"><path d="M-11,1.5 Q0,-4.5 11,1.5" fill="none" stroke="#f8cf4a" stroke-width="15.5" stroke-linecap="round"/><path d="M-11,1.5 Q0,-4.5 11,1.5" fill="none" stroke="url(#st)" stroke-width="12.2" stroke-linecap="round"/></g><g transform="translate(-4.20,-10.38) rotate(220)"><path d="M-11,1.5 Q0,-4.5 11,1.5" fill="none" stroke="#f8cf4a" stroke-width="15.5" stroke-linecap="round"/><path d="M-11,1.5 Q0,-4.5 11,1.5" fill="none" stroke="url(#st)" stroke-width="12.2" stroke-linecap="round"/></g></g><g transform="translate(723.3,106.9) rotate(-155.3) scale(0.800,0.917)"><g transform="translate(15.5,0) rotate(50)"><rect x="-16" y="-3.8" width="32" height="7.6" rx="3" fill="#fde2cf"/></g><g transform="translate(4.20,10.38) rotate(40)"><path d="M-11,1.5 Q0,-4.5 11,1.5" fill="none" stroke="#f8cf4a" stroke-width="15.5" stroke-linecap="round"/><path d="M-11,1.5 Q0,-4.5 11,1.5" fill="none" stroke="url(#st)" stroke-width="12.2" stroke-linecap="round"/></g><g transform="translate(-4.20,-10.38) rotate(220)"><path d="M-11,1.5 Q0,-4.5 11,1.5" fill="none" stroke="#f8cf4a" stroke-width="15.5" stroke-linecap="round"/><path d="M-11,1.5 Q0,-4.5 11,1.5" fill="none" stroke="url(#st)" stroke-width="12.2" stroke-linecap="round"/></g></g><g transform="translate(699.3,99.3) rotate(-165.8) scale(0.800,0.917)"><g transform="translate(15.5,0) rotate(50)"><rect x="-16" y="-3.8" width="32" height="7.6" rx="3" fill="#fde2cf"/></g><g transform="translate(4.20,10.38) rotate(40)"><path d="M-11,1.5 Q0,-4.5 11,1.5" fill="none" stroke="#f8cf4a" stroke-width="15.5" stroke-linecap="round"/><path d="M-11,1.5 Q0,-4.5 11,1.5" fill="none" stroke="url(#st)" stroke-width="12.2" stroke-linecap="round"/></g><g transform="translate(-4.20,-10.38) rotate(220)"><path d="M-11,1.5 Q0,-4.5 11,1.5" fill="none" stroke="#f8cf4a" stroke-width="15.5" stroke-linecap="round"/><path d="M-11,1.5 Q0,-4.5 11,1.5" fill="none" stroke="url(#st)" stroke-width="12.2" stroke-linecap="round"/></g></g><g transform="translate(674.6,94.7) rotate(-174.9) scale(0.800,0.917)"><g transform="translate(15.5,0) rotate(50)"><rect x="-16" y="-3.8" width="32" height="7.6" rx="3" fill="#fde2cf"/></g><g transform="translate(4.20,10.38) rotate(40)"><path d="M-11,1.5 Q0,-4.5 11,1.5" fill="none" stroke="#f8cf4a" stroke-width="15.5" stroke-linecap="round"/><path d="M-11,1.5 Q0,-4.5 11,1.5" fill="none" stroke="url(#st)" stroke-width="12.2" stroke-linecap="round"/></g><g transform="translate(-4.20,-10.38) rotate(220)"><path d="M-11,1.5 Q0,-4.5 11,1.5" fill="none" stroke="#f8cf4a" stroke-width="15.5" stroke-linecap="round"/><path d="M-11,1.5 Q0,-4.5 11,1.5" fill="none" stroke="url(#st)" stroke-width="12.2" stroke-linecap="round"/></g></g><g transform="translate(649.8,97.4) rotate(164.7) scale(0.798,0.916)"><g transform="translate(15.5,0) rotate(50)"><rect x="-16" y="-3.8" width="32" height="7.6" rx="3" fill="#fde2cf"/></g><g transform="translate(4.20,10.38) rotate(40)"><path d="M-11,1.5 Q0,-4.5 11,1.5" fill="none" stroke="#f8cf4a" stroke-width="15.5" stroke-linecap="round"/><path d="M-11,1.5 Q0,-4.5 11,1.5" fill="none" stroke="url(#st)" stroke-width="12.2" stroke-linecap="round"/></g><g transform="translate(-4.20,-10.38) rotate(220)"><path d="M-11,1.5 Q0,-4.5 11,1.5" fill="none" stroke="#f8cf4a" stroke-width="15.5" stroke-linecap="round"/><path d="M-11,1.5 Q0,-4.5 11,1.5" fill="none" stroke="url(#st)" stroke-width="12.2" stroke-linecap="round"/></g></g><g transform="translate(625.7,106.2) rotate(153.8) scale(0.836,0.929)"><g transform="translate(15.5,0) rotate(50)"><rect x="-16" y="-3.8" width="32" height="7.6" rx="3" fill="#fde2cf"/></g><g transform="translate(4.20,10.38) rotate(40)"><path d="M-11,1.5 Q0,-4.5 11,1.5" fill="none" stroke="#f8cf4a" stroke-width="15.5" stroke-linecap="round"/><path d="M-11,1.5 Q0,-4.5 11,1.5" fill="none" stroke="url(#st)" stroke-width="12.2" stroke-linecap="round"/></g><g transform="translate(-4.20,-10.38) rotate(220)"><path d="M-11,1.5 Q0,-4.5 11,1.5" fill="none" stroke="#f8cf4a" stroke-width="15.5" stroke-linecap="round"/><path d="M-11,1.5 Q0,-4.5 11,1.5" fill="none" stroke="url(#st)" stroke-width="12.2" stroke-linecap="round"/></g></g><g transform="translate(603.6,121.9) rotate(134.6) scale(0.901,0.946)"><g transform="translate(15.5,0) rotate(50)"><rect x="-16" y="-3.8" width="32" height="7.6" rx="3" fill="#fde2cf"/></g><g transform="translate(4.20,10.38) rotate(40)"><path d="M-11,1.5 Q0,-4.5 11,1.5" fill="none" stroke="#f8cf4a" stroke-width="15.5" stroke-linecap="round"/><path d="M-11,1.5 Q0,-4.5 11,1.5" fill="none" stroke="url(#st)" stroke-width="12.2" stroke-linecap="round"/></g><g transform="translate(-4.20,-10.38) rotate(220)"><path d="M-11,1.5 Q0,-4.5 11,1.5" fill="none" stroke="#f8cf4a" stroke-width="15.5" stroke-linecap="round"/><path d="M-11,1.5 Q0,-4.5 11,1.5" fill="none" stroke="url(#st)" stroke-width="12.2" stroke-linecap="round"/></g></g><g transform="translate(584.9,145.0) rotate(119.4) scale(0.992,0.968)"><g transform="translate(15.5,0) rotate(50)"><rect x="-16" y="-3.8" width="32" height="7.6" rx="3" fill="#fde2cf"/></g><g transform="translate(4.20,10.38) rotate(40)"><path d="M-11,1.5 Q0,-4.5 11,1.5" fill="none" stroke="#f8cf4a" stroke-width="15.5" stroke-linecap="round"/><path d="M-11,1.5 Q0,-4.5 11,1.5" fill="none" stroke="url(#st)" stroke-width="12.2" stroke-linecap="round"/></g><g transform="translate(-4.20,-10.38) rotate(220)"><path d="M-11,1.5 Q0,-4.5 11,1.5" fill="none" stroke="#f8cf4a" stroke-width="15.5" stroke-linecap="round"/><path d="M-11,1.5 Q0,-4.5 11,1.5" fill="none" stroke="url(#st)" stroke-width="12.2" stroke-linecap="round"/></g></g><g transform="translate(569.2,173.2) rotate(119.4) scale(1.047,0.987)"><g transform="translate(15.5,0) rotate(50)"><rect x="-16" y="-3.8" width="32" height="7.6" rx="3" fill="#fde2cf"/></g><g transform="translate(4.20,10.38) rotate(40)"><path d="M-11,1.5 Q0,-4.5 11,1.5" fill="none" stroke="#f8cf4a" stroke-width="15.5" stroke-linecap="round"/><path d="M-11,1.5 Q0,-4.5 11,1.5" fill="none" stroke="url(#st)" stroke-width="12.2" stroke-linecap="round"/></g><g transform="translate(-4.20,-10.38) rotate(220)"><path d="M-11,1.5 Q0,-4.5 11,1.5" fill="none" stroke="#f8cf4a" stroke-width="15.5" stroke-linecap="round"/><path d="M-11,1.5 Q0,-4.5 11,1.5" fill="none" stroke="url(#st)" stroke-width="12.2" stroke-linecap="round"/></g></g><g transform="translate(552.8,202.4) rotate(119.2) scale(1.080,0.998)"><g transform="translate(15.5,0) rotate(50)"><rect x="-16" y="-3.8" width="32" height="7.6" rx="3" fill="#fde2cf"/></g><g transform="translate(4.20,10.38) rotate(40)"><path d="M-11,1.5 Q0,-4.5 11,1.5" fill="none" stroke="#f8cf4a" stroke-width="15.5" stroke-linecap="round"/><path d="M-11,1.5 Q0,-4.5 11,1.5" fill="none" stroke="url(#st)" stroke-width="12.2" stroke-linecap="round"/></g><g transform="translate(-4.20,-10.38) rotate(220)"><path d="M-11,1.5 Q0,-4.5 11,1.5" fill="none" stroke="#f8cf4a" stroke-width="15.5" stroke-linecap="round"/><path d="M-11,1.5 Q0,-4.5 11,1.5" fill="none" stroke="url(#st)" stroke-width="12.2" stroke-linecap="round"/></g></g><g transform="translate(536.3,232.6) rotate(118.2) scale(1.099,1.001)"><g transform="translate(15.5,0) rotate(50)"><rect x="-16" y="-3.8" width="32" height="7.6" rx="3" fill="#fde2cf"/></g><g transform="translate(4.20,10.38) rotate(40)"><path d="M-11,1.5 Q0,-4.5 11,1.5" fill="none" stroke="#f8cf4a" stroke-width="15.5" stroke-linecap="round"/><path d="M-11,1.5 Q0,-4.5 11,1.5" fill="none" stroke="url(#st)" stroke-width="12.2" stroke-linecap="round"/></g><g transform="translate(-4.20,-10.38) rotate(220)"><path d="M-11,1.5 Q0,-4.5 11,1.5" fill="none" stroke="#f8cf4a" stroke-width="15.5" stroke-linecap="round"/><path d="M-11,1.5 Q0,-4.5 11,1.5" fill="none" stroke="url(#st)" stroke-width="12.2" stroke-linecap="round"/></g></g><g transform="translate(519.3,262.9) rotate(120.7) scale(1.104,1.000)"><g transform="translate(15.5,0) rotate(50)"><rect x="-16" y="-3.8" width="32" height="7.6" rx="3" fill="#fde2cf"/></g><g transform="translate(4.20,10.38) rotate(40)"><path d="M-11,1.5 Q0,-4.5 11,1.5" fill="none" stroke="#f8cf4a" stroke-width="15.5" stroke-linecap="round"/><path d="M-11,1.5 Q0,-4.5 11,1.5" fill="none" stroke="url(#st)" stroke-width="12.2" stroke-linecap="round"/></g><g transform="translate(-4.20,-10.38) rotate(220)"><path d="M-11,1.5 Q0,-4.5 11,1.5" fill="none" stroke="#f8cf4a" stroke-width="15.5" stroke-linecap="round"/><path d="M-11,1.5 Q0,-4.5 11,1.5" fill="none" stroke="url(#st)" stroke-width="12.2" stroke-linecap="round"/></g></g><g transform="translate(500.8,292.4) rotate(122.9) scale(1.105,1.000)"><g transform="translate(15.5,0) rotate(50)"><rect x="-16" y="-3.8" width="32" height="7.6" rx="3" fill="#fde2cf"/></g><g transform="translate(4.20,10.38) rotate(40)"><path d="M-11,1.5 Q0,-4.5 11,1.5" fill="none" stroke="#f8cf4a" stroke-width="15.5" stroke-linecap="round"/><path d="M-11,1.5 Q0,-4.5 11,1.5" fill="none" stroke="url(#st)" stroke-width="12.2" stroke-linecap="round"/></g><g transform="translate(-4.20,-10.38) rotate(220)"><path d="M-11,1.5 Q0,-4.5 11,1.5" fill="none" stroke="#f8cf4a" stroke-width="15.5" stroke-linecap="round"/><path d="M-11,1.5 Q0,-4.5 11,1.5" fill="none" stroke="url(#st)" stroke-width="12.2" stroke-linecap="round"/></g></g><g transform="translate(481.9,321.6) rotate(122.9) scale(1.104,1.000)"><g transform="translate(15.5,0) rotate(50)"><rect x="-16" y="-3.8" width="32" height="7.6" rx="3" fill="#fde2cf"/></g><g transform="translate(4.20,10.38) rotate(40)"><path d="M-11,1.5 Q0,-4.5 11,1.5" fill="none" stroke="#f8cf4a" stroke-width="15.5" stroke-linecap="round"/><path d="M-11,1.5 Q0,-4.5 11,1.5" fill="none" stroke="url(#st)" stroke-width="12.2" stroke-linecap="round"/></g><g transform="translate(-4.20,-10.38) rotate(220)"><path d="M-11,1.5 Q0,-4.5 11,1.5" fill="none" stroke="#f8cf4a" stroke-width="15.5" stroke-linecap="round"/><path d="M-11,1.5 Q0,-4.5 11,1.5" fill="none" stroke="url(#st)" stroke-width="12.2" stroke-linecap="round"/></g></g><g transform="translate(462.9,350.7) rotate(123.2) scale(1.104,1.000)"><g transform="translate(15.5,0) rotate(50)"><rect x="-16" y="-3.8" width="32" height="7.6" rx="3" fill="#fde2cf"/></g><g transform="translate(4.20,10.38) rotate(40)"><path d="M-11,1.5 Q0,-4.5 11,1.5" fill="none" stroke="#f8cf4a" stroke-width="15.5" stroke-linecap="round"/><path d="M-11,1.5 Q0,-4.5 11,1.5" fill="none" stroke="url(#st)" stroke-width="12.2" stroke-linecap="round"/></g><g transform="translate(-4.20,-10.38) rotate(220)"><path d="M-11,1.5 Q0,-4.5 11,1.5" fill="none" stroke="#f8cf4a" stroke-width="15.5" stroke-linecap="round"/><path d="M-11,1.5 Q0,-4.5 11,1.5" fill="none" stroke="url(#st)" stroke-width="12.2" stroke-linecap="round"/></g></g><g transform="translate(443.9,379.8) rotate(122.9) scale(1.104,1.000)"><g transform="translate(15.5,0) rotate(50)"><rect x="-16" y="-3.8" width="32" height="7.6" rx="3" fill="#fde2cf"/></g><g transform="translate(4.20,10.38) rotate(40)"><path d="M-11,1.5 Q0,-4.5 11,1.5" fill="none" stroke="#f8cf4a" stroke-width="15.5" stroke-linecap="round"/><path d="M-11,1.5 Q0,-4.5 11,1.5" fill="none" stroke="url(#st)" stroke-width="12.2" stroke-linecap="round"/></g><g transform="translate(-4.20,-10.38) rotate(220)"><path d="M-11,1.5 Q0,-4.5 11,1.5" fill="none" stroke="#f8cf4a" stroke-width="15.5" stroke-linecap="round"/><path d="M-11,1.5 Q0,-4.5 11,1.5" fill="none" stroke="url(#st)" stroke-width="12.2" stroke-linecap="round"/></g></g><g transform="translate(425.2,409.2) rotate(122.0) scale(1.104,1.000)"><g transform="translate(15.5,0) rotate(50)"><rect x="-16" y="-3.8" width="32" height="7.6" rx="3" fill="#fde2cf"/></g><g transform="translate(4.20,10.38) rotate(40)"><path d="M-11,1.5 Q0,-4.5 11,1.5" fill="none" stroke="#f8cf4a" stroke-width="15.5" stroke-linecap="round"/><path d="M-11,1.5 Q0,-4.5 11,1.5" fill="none" stroke="url(#st)" stroke-width="12.2" stroke-linecap="round"/></g><g transform="translate(-4.20,-10.38) rotate(220)"><path d="M-11,1.5 Q0,-4.5 11,1.5" fill="none" stroke="#f8cf4a" stroke-width="15.5" stroke-linecap="round"/><path d="M-11,1.5 Q0,-4.5 11,1.5" fill="none" stroke="url(#st)" stroke-width="12.2" stroke-linecap="round"/></g></g><g transform="translate(406.9,438.8) rotate(121.5) scale(1.104,1.000)"><g transform="translate(15.5,0) rotate(50)"><rect x="-16" y="-3.8" width="32" height="7.6" rx="3" fill="#fde2cf"/></g><g transform="translate(4.20,10.38) rotate(40)"><path d="M-11,1.5 Q0,-4.5 11,1.5" fill="none" stroke="#f8cf4a" stroke-width="15.5" stroke-linecap="round"/><path d="M-11,1.5 Q0,-4.5 11,1.5" fill="none" stroke="url(#st)" stroke-width="12.2" stroke-linecap="round"/></g><g transform="translate(-4.20,-10.38) rotate(220)"><path d="M-11,1.5 Q0,-4.5 11,1.5" fill="none" stroke="#f8cf4a" stroke-width="15.5" stroke-linecap="round"/><path d="M-11,1.5 Q0,-4.5 11,1.5" fill="none" stroke="url(#st)" stroke-width="12.2" stroke-linecap="round"/></g></g><g transform="translate(388.7,468.5) rotate(121.4) scale(1.104,1.000)"><g transform="translate(15.5,0) rotate(50)"><rect x="-16" y="-3.8" width="32" height="7.6" rx="3" fill="#fde2cf"/></g><g transform="translate(4.20,10.38) rotate(40)"><path d="M-11,1.5 Q0,-4.5 11,1.5" fill="none" stroke="#f8cf4a" stroke-width="15.5" stroke-linecap="round"/><path d="M-11,1.5 Q0,-4.5 11,1.5" fill="none" stroke="url(#st)" stroke-width="12.2" stroke-linecap="round"/></g><g transform="translate(-4.20,-10.38) rotate(220)"><path d="M-11,1.5 Q0,-4.5 11,1.5" fill="none" stroke="#f8cf4a" stroke-width="15.5" stroke-linecap="round"/><path d="M-11,1.5 Q0,-4.5 11,1.5" fill="none" stroke="url(#st)" stroke-width="12.2" stroke-linecap="round"/></g></g><g transform="translate(370.7,498.2) rotate(121.2) scale(1.104,1.000)"><g transform="translate(15.5,0) rotate(50)"><rect x="-16" y="-3.8" width="32" height="7.6" rx="3" fill="#fde2cf"/></g><g transform="translate(4.20,10.38) rotate(40)"><path d="M-11,1.5 Q0,-4.5 11,1.5" fill="none" stroke="#f8cf4a" stroke-width="15.5" stroke-linecap="round"/><path d="M-11,1.5 Q0,-4.5 11,1.5" fill="none" stroke="url(#st)" stroke-width="12.2" stroke-linecap="round"/></g><g transform="translate(-4.20,-10.38) rotate(220)"><path d="M-11,1.5 Q0,-4.5 11,1.5" fill="none" stroke="#f8cf4a" stroke-width="15.5" stroke-linecap="round"/><path d="M-11,1.5 Q0,-4.5 11,1.5" fill="none" stroke="url(#st)" stroke-width="12.2" stroke-linecap="round"/></g></g><g transform="translate(352.8,528.0) rotate(120.7) scale(1.104,1.000)"><g transform="translate(15.5,0) rotate(50)"><rect x="-16" y="-3.8" width="32" height="7.6" rx="3" fill="#fde2cf"/></g><g transform="translate(4.20,10.38) rotate(40)"><path d="M-11,1.5 Q0,-4.5 11,1.5" fill="none" stroke="#f8cf4a" stroke-width="15.5" stroke-linecap="round"/><path d="M-11,1.5 Q0,-4.5 11,1.5" fill="none" stroke="url(#st)" stroke-width="12.2" stroke-linecap="round"/></g><g transform="translate(-4.20,-10.38) rotate(220)"><path d="M-11,1.5 Q0,-4.5 11,1.5" fill="none" stroke="#f8cf4a" stroke-width="15.5" stroke-linecap="round"/><path d="M-11,1.5 Q0,-4.5 11,1.5" fill="none" stroke="url(#st)" stroke-width="12.2" stroke-linecap="round"/></g></g><g transform="translate(335.2,558.0) rotate(120.1) scale(1.105,0.999)"><g transform="translate(15.5,0) rotate(50)"><rect x="-16" y="-3.8" width="32" height="7.6" rx="3" fill="#fde2cf"/></g><g transform="translate(4.20,10.38) rotate(40)"><path d="M-11,1.5 Q0,-4.5 11,1.5" fill="none" stroke="#f8cf4a" stroke-width="15.5" stroke-linecap="round"/><path d="M-11,1.5 Q0,-4.5 11,1.5" fill="none" stroke="url(#st)" stroke-width="12.2" stroke-linecap="round"/></g><g transform="translate(-4.20,-10.38) rotate(220)"><path d="M-11,1.5 Q0,-4.5 11,1.5" fill="none" stroke="#f8cf4a" stroke-width="15.5" stroke-linecap="round"/><path d="M-11,1.5 Q0,-4.5 11,1.5" fill="none" stroke="url(#st)" stroke-width="12.2" stroke-linecap="round"/></g></g><g transform="translate(317.8,588.2) rotate(119.7) scale(1.105,0.999)"><g transform="translate(15.5,0) rotate(50)"><rect x="-16" y="-3.8" width="32" height="7.6" rx="3" fill="#fde2cf"/></g><g transform="translate(4.20,10.38) rotate(40)"><path d="M-11,1.5 Q0,-4.5 11,1.5" fill="none" stroke="#f8cf4a" stroke-width="15.5" stroke-linecap="round"/><path d="M-11,1.5 Q0,-4.5 11,1.5" fill="none" stroke="url(#st)" stroke-width="12.2" stroke-linecap="round"/></g><g transform="translate(-4.20,-10.38) rotate(220)"><path d="M-11,1.5 Q0,-4.5 11,1.5" fill="none" stroke="#f8cf4a" stroke-width="15.5" stroke-linecap="round"/><path d="M-11,1.5 Q0,-4.5 11,1.5" fill="none" stroke="url(#st)" stroke-width="12.2" stroke-linecap="round"/></g></g><g transform="translate(300.7,618.4) rotate(119.6) scale(1.100,1.005)"><g transform="translate(15.5,0) rotate(50)"><rect x="-16" y="-3.8" width="32" height="7.6" rx="3" fill="#fde2cf"/></g><g transform="translate(4.20,10.38) rotate(40)"><path d="M-11,1.5 Q0,-4.5 11,1.5" fill="none" stroke="#f8cf4a" stroke-width="15.5" stroke-linecap="round"/><path d="M-11,1.5 Q0,-4.5 11,1.5" fill="none" stroke="url(#st)" stroke-width="12.2" stroke-linecap="round"/></g><g transform="translate(-4.20,-10.38) rotate(220)"><path d="M-11,1.5 Q0,-4.5 11,1.5" fill="none" stroke="#f8cf4a" stroke-width="15.5" stroke-linecap="round"/><path d="M-11,1.5 Q0,-4.5 11,1.5" fill="none" stroke="url(#st)" stroke-width="12.2" stroke-linecap="round"/></g></g><g transform="translate(283.9,648.6) rotate(118.1) scale(1.091,1.017)"><g transform="translate(15.5,0) rotate(50)"><rect x="-16" y="-3.8" width="32" height="7.6" rx="3" fill="#fde2cf"/></g><g transform="translate(4.20,10.38) rotate(40)"><path d="M-11,1.5 Q0,-4.5 11,1.5" fill="none" stroke="#f8cf4a" stroke-width="15.5" stroke-linecap="round"/><path d="M-11,1.5 Q0,-4.5 11,1.5" fill="none" stroke="url(#st)" stroke-width="12.2" stroke-linecap="round"/></g><g transform="translate(-4.20,-10.38) rotate(220)"><path d="M-11,1.5 Q0,-4.5 11,1.5" fill="none" stroke="#f8cf4a" stroke-width="15.5" stroke-linecap="round"/><path d="M-11,1.5 Q0,-4.5 11,1.5" fill="none" stroke="url(#st)" stroke-width="12.2" stroke-linecap="round"/></g></g><g transform="translate(268.4,679.0) rotate(115.9) scale(1.073,1.040)"><g transform="translate(15.5,0) rotate(50)"><rect x="-16" y="-3.8" width="32" height="7.6" rx="3" fill="#fde2cf"/></g><g transform="translate(4.20,10.38) rotate(40)"><path d="M-11,1.5 Q0,-4.5 11,1.5" fill="none" stroke="#f8cf4a" stroke-width="15.5" stroke-linecap="round"/><path d="M-11,1.5 Q0,-4.5 11,1.5" fill="none" stroke="url(#st)" stroke-width="12.2" stroke-linecap="round"/></g><g transform="translate(-4.20,-10.38) rotate(220)"><path d="M-11,1.5 Q0,-4.5 11,1.5" fill="none" stroke="#f8cf4a" stroke-width="15.5" stroke-linecap="round"/><path d="M-11,1.5 Q0,-4.5 11,1.5" fill="none" stroke="url(#st)" stroke-width="12.2" stroke-linecap="round"/></g></g><g transform="translate(255.5,709.8) rotate(108.1) scale(1.046,1.075)"><g transform="translate(15.5,0) rotate(50)"><rect x="-16" y="-3.8" width="32" height="7.6" rx="3" fill="#fde2cf"/></g><g transform="translate(4.20,10.38) rotate(40)"><path d="M-11,1.5 Q0,-4.5 11,1.5" fill="none" stroke="#f8cf4a" stroke-width="15.5" stroke-linecap="round"/><path d="M-11,1.5 Q0,-4.5 11,1.5" fill="none" stroke="url(#st)" stroke-width="12.2" stroke-linecap="round"/></g><g transform="translate(-4.20,-10.38) rotate(220)"><path d="M-11,1.5 Q0,-4.5 11,1.5" fill="none" stroke="#f8cf4a" stroke-width="15.5" stroke-linecap="round"/><path d="M-11,1.5 Q0,-4.5 11,1.5" fill="none" stroke="url(#st)" stroke-width="12.2" stroke-linecap="round"/></g></g><g transform="translate(249.7,741.6) rotate(94.7) scale(1.011,1.113)"><g transform="translate(15.5,0) rotate(50)"><rect x="-16" y="-3.8" width="32" height="7.6" rx="3" fill="#fde2cf"/></g><g transform="translate(4.20,10.38) rotate(40)"><path d="M-11,1.5 Q0,-4.5 11,1.5" fill="none" stroke="#f8cf4a" stroke-width="15.5" stroke-linecap="round"/><path d="M-11,1.5 Q0,-4.5 11,1.5" fill="none" stroke="url(#st)" stroke-width="12.2" stroke-linecap="round"/></g><g transform="translate(-4.20,-10.38) rotate(220)"><path d="M-11,1.5 Q0,-4.5 11,1.5" fill="none" stroke="#f8cf4a" stroke-width="15.5" stroke-linecap="round"/><path d="M-11,1.5 Q0,-4.5 11,1.5" fill="none" stroke="url(#st)" stroke-width="12.2" stroke-linecap="round"/></g></g><g transform="translate(251.2,772.9) rotate(82.2) scale(0.990,1.131)"><g transform="translate(15.5,0) rotate(50)"><rect x="-16" y="-3.8" width="32" height="7.6" rx="3" fill="#fde2cf"/></g><g transform="translate(4.20,10.38) rotate(40)"><path d="M-11,1.5 Q0,-4.5 11,1.5" fill="none" stroke="#f8cf4a" stroke-width="15.5" stroke-linecap="round"/><path d="M-11,1.5 Q0,-4.5 11,1.5" fill="none" stroke="url(#st)" stroke-width="12.2" stroke-linecap="round"/></g><g transform="translate(-4.20,-10.38) rotate(220)"><path d="M-11,1.5 Q0,-4.5 11,1.5" fill="none" stroke="#f8cf4a" stroke-width="15.5" stroke-linecap="round"/><path d="M-11,1.5 Q0,-4.5 11,1.5" fill="none" stroke="url(#st)" stroke-width="12.2" stroke-linecap="round"/></g></g><g transform="translate(258.3,803.2) rotate(67.8) scale(0.992,1.145)"><g transform="translate(15.5,0) rotate(50)"><rect x="-16" y="-3.8" width="32" height="7.6" rx="3" fill="#fde2cf"/></g><g transform="translate(4.20,10.38) rotate(40)"><path d="M-11,1.5 Q0,-4.5 11,1.5" fill="none" stroke="#f8cf4a" stroke-width="15.5" stroke-linecap="round"/><path d="M-11,1.5 Q0,-4.5 11,1.5" fill="none" stroke="url(#st)" stroke-width="12.2" stroke-linecap="round"/></g><g transform="translate(-4.20,-10.38) rotate(220)"><path d="M-11,1.5 Q0,-4.5 11,1.5" fill="none" stroke="#f8cf4a" stroke-width="15.5" stroke-linecap="round"/><path d="M-11,1.5 Q0,-4.5 11,1.5" fill="none" stroke="url(#st)" stroke-width="12.2" stroke-linecap="round"/></g></g><g transform="translate(276.3,828.5) rotate(44.6) scale(0.992,1.146)"><g transform="translate(15.5,0) rotate(50)"><rect x="-16" y="-3.8" width="32" height="7.6" rx="3" fill="#fde2cf"/></g><g transform="translate(4.20,10.38) rotate(40)"><path d="M-11,1.5 Q0,-4.5 11,1.5" fill="none" stroke="#f8cf4a" stroke-width="15.5" stroke-linecap="round"/><path d="M-11,1.5 Q0,-4.5 11,1.5" fill="none" stroke="url(#st)" stroke-width="12.2" stroke-linecap="round"/></g><g transform="translate(-4.20,-10.38) rotate(220)"><path d="M-11,1.5 Q0,-4.5 11,1.5" fill="none" stroke="#f8cf4a" stroke-width="15.5" stroke-linecap="round"/><path d="M-11,1.5 Q0,-4.5 11,1.5" fill="none" stroke="url(#st)" stroke-width="12.2" stroke-linecap="round"/></g></g><g transform="translate(301.3,847.1) rotate(28.4) scale(0.992,1.146)"><g transform="translate(15.5,0) rotate(50)"><rect x="-16" y="-3.8" width="32" height="7.6" rx="3" fill="#fde2cf"/></g><g transform="translate(4.20,10.38) rotate(40)"><path d="M-11,1.5 Q0,-4.5 11,1.5" fill="none" stroke="#f8cf4a" stroke-width="15.5" stroke-linecap="round"/><path d="M-11,1.5 Q0,-4.5 11,1.5" fill="none" stroke="url(#st)" stroke-width="12.2" stroke-linecap="round"/></g><g transform="translate(-4.20,-10.38) rotate(220)"><path d="M-11,1.5 Q0,-4.5 11,1.5" fill="none" stroke="#f8cf4a" stroke-width="15.5" stroke-linecap="round"/><path d="M-11,1.5 Q0,-4.5 11,1.5" fill="none" stroke="url(#st)" stroke-width="12.2" stroke-linecap="round"/></g></g><g transform="translate(330.5,857.6) rotate(5.1) scale(0.992,1.146)"><g transform="translate(15.5,0) rotate(50)"><rect x="-16" y="-3.8" width="32" height="7.6" rx="3" fill="#fde2cf"/></g><g transform="translate(4.20,10.38) rotate(40)"><path d="M-11,1.5 Q0,-4.5 11,1.5" fill="none" stroke="#f8cf4a" stroke-width="15.5" stroke-linecap="round"/><path d="M-11,1.5 Q0,-4.5 11,1.5" fill="none" stroke="url(#st)" stroke-width="12.2" stroke-linecap="round"/></g><g transform="translate(-4.20,-10.38) rotate(220)"><path d="M-11,1.5 Q0,-4.5 11,1.5" fill="none" stroke="#f8cf4a" stroke-width="15.5" stroke-linecap="round"/><path d="M-11,1.5 Q0,-4.5 11,1.5" fill="none" stroke="url(#st)" stroke-width="12.2" stroke-linecap="round"/></g></g><g transform="translate(361.3,853.4) rotate(-13.9) scale(0.992,1.146)"><g transform="translate(15.5,0) rotate(50)"><rect x="-16" y="-3.8" width="32" height="7.6" rx="3" fill="#fde2cf"/></g><g transform="translate(4.20,10.38) rotate(40)"><path d="M-11,1.5 Q0,-4.5 11,1.5" fill="none" stroke="#f8cf4a" stroke-width="15.5" stroke-linecap="round"/><path d="M-11,1.5 Q0,-4.5 11,1.5" fill="none" stroke="url(#st)" stroke-width="12.2" stroke-linecap="round"/></g><g transform="translate(-4.20,-10.38) rotate(220)"><path d="M-11,1.5 Q0,-4.5 11,1.5" fill="none" stroke="#f8cf4a" stroke-width="15.5" stroke-linecap="round"/><path d="M-11,1.5 Q0,-4.5 11,1.5" fill="none" stroke="url(#st)" stroke-width="12.2" stroke-linecap="round"/></g></g><g transform="translate(390.9,843.4) rotate(-22.7) scale(0.990,1.129)"><g transform="translate(15.5,0) rotate(50)"><rect x="-16" y="-3.8" width="32" height="7.6" rx="3" fill="#fde2cf"/></g><g transform="translate(4.20,10.38) rotate(40)"><path d="M-11,1.5 Q0,-4.5 11,1.5" fill="none" stroke="#f8cf4a" stroke-width="15.5" stroke-linecap="round"/><path d="M-11,1.5 Q0,-4.5 11,1.5" fill="none" stroke="url(#st)" stroke-width="12.2" stroke-linecap="round"/></g><g transform="translate(-4.20,-10.38) rotate(220)"><path d="M-11,1.5 Q0,-4.5 11,1.5" fill="none" stroke="#f8cf4a" stroke-width="15.5" stroke-linecap="round"/><path d="M-11,1.5 Q0,-4.5 11,1.5" fill="none" stroke="url(#st)" stroke-width="12.2" stroke-linecap="round"/></g></g><g transform="translate(418.9,828.9) rotate(-31.1) scale(1.020,1.088)"><g transform="translate(15.5,0) rotate(50)"><rect x="-16" y="-3.8" width="32" height="7.6" rx="3" fill="#fde2cf"/></g><g transform="translate(4.20,10.38) rotate(40)"><path d="M-11,1.5 Q0,-4.5 11,1.5" fill="none" stroke="#f8cf4a" stroke-width="15.5" stroke-linecap="round"/><path d="M-11,1.5 Q0,-4.5 11,1.5" fill="none" stroke="url(#st)" stroke-width="12.2" stroke-linecap="round"/></g><g transform="translate(-4.20,-10.38) rotate(220)"><path d="M-11,1.5 Q0,-4.5 11,1.5" fill="none" stroke="#f8cf4a" stroke-width="15.5" stroke-linecap="round"/><path d="M-11,1.5 Q0,-4.5 11,1.5" fill="none" stroke="url(#st)" stroke-width="12.2" stroke-linecap="round"/></g></g><g transform="translate(446.2,811.1) rotate(-39.4) scale(1.052,1.046)"><g transform="translate(15.5,0) rotate(50)"><rect x="-16" y="-3.8" width="32" height="7.6" rx="3" fill="#fde2cf"/></g><g transform="translate(4.20,10.38) rotate(40)"><path d="M-11,1.5 Q0,-4.5 11,1.5" fill="none" stroke="#f8cf4a" stroke-width="15.5" stroke-linecap="round"/><path d="M-11,1.5 Q0,-4.5 11,1.5" fill="none" stroke="url(#st)" stroke-width="12.2" stroke-linecap="round"/></g><g transform="translate(-4.20,-10.38) rotate(220)"><path d="M-11,1.5 Q0,-4.5 11,1.5" fill="none" stroke="#f8cf4a" stroke-width="15.5" stroke-linecap="round"/><path d="M-11,1.5 Q0,-4.5 11,1.5" fill="none" stroke="url(#st)" stroke-width="12.2" stroke-linecap="round"/></g></g><g transform="translate(468.2,785.7) rotate(-55.6) scale(1.088,1.000)"><g transform="translate(15.5,0) rotate(50)"><rect x="-16" y="-3.8" width="32" height="7.6" rx="3" fill="#fde2cf"/></g><g transform="translate(4.20,10.38) rotate(40)"><path d="M-11,1.5 Q0,-4.5 11,1.5" fill="none" stroke="#f8cf4a" stroke-width="15.5" stroke-linecap="round"/><path d="M-11,1.5 Q0,-4.5 11,1.5" fill="none" stroke="url(#st)" stroke-width="12.2" stroke-linecap="round"/></g><g transform="translate(-4.20,-10.38) rotate(220)"><path d="M-11,1.5 Q0,-4.5 11,1.5" fill="none" stroke="#f8cf4a" stroke-width="15.5" stroke-linecap="round"/><path d="M-11,1.5 Q0,-4.5 11,1.5" fill="none" stroke="url(#st)" stroke-width="12.2" stroke-linecap="round"/></g></g><g transform="translate(485.7,755.4) rotate(-59.7) scale(1.121,0.976)"><g transform="translate(15.5,0) rotate(50)"><rect x="-16" y="-3.8" width="32" height="7.6" rx="3" fill="#fde2cf"/></g><g transform="translate(4.20,10.38) rotate(40)"><path d="M-11,1.5 Q0,-4.5 11,1.5" fill="none" stroke="#f8cf4a" stroke-width="15.5" stroke-linecap="round"/><path d="M-11,1.5 Q0,-4.5 11,1.5" fill="none" stroke="url(#st)" stroke-width="12.2" stroke-linecap="round"/></g><g transform="translate(-4.20,-10.38) rotate(220)"><path d="M-11,1.5 Q0,-4.5 11,1.5" fill="none" stroke="#f8cf4a" stroke-width="15.5" stroke-linecap="round"/><path d="M-11,1.5 Q0,-4.5 11,1.5" fill="none" stroke="url(#st)" stroke-width="12.2" stroke-linecap="round"/></g></g><g transform="translate(503.5,724.9) rotate(-60.0) scale(1.120,0.958)"><g transform="translate(15.5,0) rotate(50)"><rect x="-16" y="-3.8" width="32" height="7.6" rx="3" fill="#fde2cf"/></g><g transform="translate(4.20,10.38) rotate(40)"><path d="M-11,1.5 Q0,-4.5 11,1.5" fill="none" stroke="#f8cf4a" stroke-width="15.5" stroke-linecap="round"/><path d="M-11,1.5 Q0,-4.5 11,1.5" fill="none" stroke="url(#st)" stroke-width="12.2" stroke-linecap="round"/></g><g transform="translate(-4.20,-10.38) rotate(220)"><path d="M-11,1.5 Q0,-4.5 11,1.5" fill="none" stroke="#f8cf4a" stroke-width="15.5" stroke-linecap="round"/><path d="M-11,1.5 Q0,-4.5 11,1.5" fill="none" stroke="url(#st)" stroke-width="12.2" stroke-linecap="round"/></g></g><g transform="translate(521.1,694.3) rotate(-61.2) scale(1.120,0.958)"><g transform="translate(15.5,0) rotate(50)"><rect x="-16" y="-3.8" width="32" height="7.6" rx="3" fill="#fde2cf"/></g><g transform="translate(4.20,10.38) rotate(40)"><path d="M-11,1.5 Q0,-4.5 11,1.5" fill="none" stroke="#f8cf4a" stroke-width="15.5" stroke-linecap="round"/><path d="M-11,1.5 Q0,-4.5 11,1.5" fill="none" stroke="url(#st)" stroke-width="12.2" stroke-linecap="round"/></g><g transform="translate(-4.20,-10.38) rotate(220)"><path d="M-11,1.5 Q0,-4.5 11,1.5" fill="none" stroke="#f8cf4a" stroke-width="15.5" stroke-linecap="round"/><path d="M-11,1.5 Q0,-4.5 11,1.5" fill="none" stroke="url(#st)" stroke-width="12.2" stroke-linecap="round"/></g></g><g transform="translate(536.2,662.5) rotate(-66.6) scale(1.120,0.958)"><g transform="translate(15.5,0) rotate(50)"><rect x="-16" y="-3.8" width="32" height="7.6" rx="3" fill="#fde2cf"/></g><g transform="translate(4.20,10.38) rotate(40)"><path d="M-11,1.5 Q0,-4.5 11,1.5" fill="none" stroke="#f8cf4a" stroke-width="15.5" stroke-linecap="round"/><path d="M-11,1.5 Q0,-4.5 11,1.5" fill="none" stroke="url(#st)" stroke-width="12.2" stroke-linecap="round"/></g><g transform="translate(-4.20,-10.38) rotate(220)"><path d="M-11,1.5 Q0,-4.5 11,1.5" fill="none" stroke="#f8cf4a" stroke-width="15.5" stroke-linecap="round"/><path d="M-11,1.5 Q0,-4.5 11,1.5" fill="none" stroke="url(#st)" stroke-width="12.2" stroke-linecap="round"/></g></g><g transform="translate(552.4,631.2) rotate(-58.4) scale(1.120,0.958)"><g transform="translate(15.5,0) rotate(50)"><rect x="-16" y="-3.8" width="32" height="7.6" rx="3" fill="#fde2cf"/></g><g transform="translate(4.20,10.38) rotate(40)"><path d="M-11,1.5 Q0,-4.5 11,1.5" fill="none" stroke="#f8cf4a" stroke-width="15.5" stroke-linecap="round"/><path d="M-11,1.5 Q0,-4.5 11,1.5" fill="none" stroke="url(#st)" stroke-width="12.2" stroke-linecap="round"/></g><g transform="translate(-4.20,-10.38) rotate(220)"><path d="M-11,1.5 Q0,-4.5 11,1.5" fill="none" stroke="#f8cf4a" stroke-width="15.5" stroke-linecap="round"/><path d="M-11,1.5 Q0,-4.5 11,1.5" fill="none" stroke="url(#st)" stroke-width="12.2" stroke-linecap="round"/></g></g><g transform="translate(569.7,600.4) rotate(-62.8) scale(1.121,0.958)"><g transform="translate(15.5,0) rotate(50)"><rect x="-16" y="-3.8" width="32" height="7.6" rx="3" fill="#fde2cf"/></g><g transform="translate(4.20,10.38) rotate(40)"><path d="M-11,1.5 Q0,-4.5 11,1.5" fill="none" stroke="#f8cf4a" stroke-width="15.5" stroke-linecap="round"/><path d="M-11,1.5 Q0,-4.5 11,1.5" fill="none" stroke="url(#st)" stroke-width="12.2" stroke-linecap="round"/></g><g transform="translate(-4.20,-10.38) rotate(220)"><path d="M-11,1.5 Q0,-4.5 11,1.5" fill="none" stroke="#f8cf4a" stroke-width="15.5" stroke-linecap="round"/><path d="M-11,1.5 Q0,-4.5 11,1.5" fill="none" stroke="url(#st)" stroke-width="12.2" stroke-linecap="round"/></g></g><g transform="translate(586.0,569.1) rotate(-60.6) scale(1.119,0.959)"><g transform="translate(15.5,0) rotate(50)"><rect x="-16" y="-3.8" width="32" height="7.6" rx="3" fill="#fde2cf"/></g><g transform="translate(4.20,10.38) rotate(40)"><path d="M-11,1.5 Q0,-4.5 11,1.5" fill="none" stroke="#f8cf4a" stroke-width="15.5" stroke-linecap="round"/><path d="M-11,1.5 Q0,-4.5 11,1.5" fill="none" stroke="url(#st)" stroke-width="12.2" stroke-linecap="round"/></g><g transform="translate(-4.20,-10.38) rotate(220)"><path d="M-11,1.5 Q0,-4.5 11,1.5" fill="none" stroke="#f8cf4a" stroke-width="15.5" stroke-linecap="round"/><path d="M-11,1.5 Q0,-4.5 11,1.5" fill="none" stroke="url(#st)" stroke-width="12.2" stroke-linecap="round"/></g></g></g><g clip-path="url(#pc)"><g transform="translate(729.4,573.9) rotate(-60.5) scale(1.000,0.979)"><ellipse cx="0" cy="0" rx="18.6" ry="24" fill="#f3b41c" stroke="#e9a112" stroke-width="1"/></g><g transform="translate(744.2,547.8) rotate(-60.5) scale(1.000,0.979)"><ellipse cx="0" cy="0" rx="18.6" ry="24" fill="#f3b41c" stroke="#e9a112" stroke-width="1"/></g><g transform="translate(759.1,521.6) rotate(-60.5) scale(1.000,0.979)"><ellipse cx="0" cy="0" rx="18.6" ry="24" fill="#f3b41c" stroke="#e9a112" stroke-width="1"/></g><g transform="translate(773.9,495.4) rotate(-60.5) scale(1.000,0.979)"><ellipse cx="0" cy="0" rx="18.6" ry="24" fill="#f3b41c" stroke="#e9a112" stroke-width="1"/></g><g transform="translate(788.8,469.2) rotate(-60.5) scale(1.000,0.979)"><ellipse cx="0" cy="0" rx="18.6" ry="24" fill="#f3b41c" stroke="#e9a112" stroke-width="1"/></g><g transform="translate(803.6,443.1) rotate(-60.5) scale(1.000,0.979)"><ellipse cx="0" cy="0" rx="18.6" ry="24" fill="#f3b41c" stroke="#e9a112" stroke-width="1"/></g><g transform="translate(729.4,573.9) rotate(-60.5) scale(1.000,0.979)"><g transform="translate(15.5,0) rotate(50)"><rect x="-16" y="-3.8" width="32" height="7.6" rx="3" fill="#fde2cf"/></g><g transform="translate(4.20,10.38) rotate(40)"><path d="M-11,1.5 Q0,-4.5 11,1.5" fill="none" stroke="#f8cf4a" stroke-width="15.5" stroke-linecap="round"/><path d="M-11,1.5 Q0,-4.5 11,1.5" fill="none" stroke="url(#st)" stroke-width="12.2" stroke-linecap="round"/></g><g transform="translate(-4.20,-10.38) rotate(220)"><path d="M-11,1.5 Q0,-4.5 11,1.5" fill="none" stroke="#f8cf4a" stroke-width="15.5" stroke-linecap="round"/><path d="M-11,1.5 Q0,-4.5 11,1.5" fill="none" stroke="url(#st)" stroke-width="12.2" stroke-linecap="round"/></g></g><g transform="translate(744.2,547.8) rotate(-60.5) scale(1.000,0.979)"><g transform="translate(15.5,0) rotate(50)"><rect x="-16" y="-3.8" width="32" height="7.6" rx="3" fill="#fde2cf"/></g><g transform="translate(4.20,10.38) rotate(40)"><path d="M-11,1.5 Q0,-4.5 11,1.5" fill="none" stroke="#f8cf4a" stroke-width="15.5" stroke-linecap="round"/><path d="M-11,1.5 Q0,-4.5 11,1.5" fill="none" stroke="url(#st)" stroke-width="12.2" stroke-linecap="round"/></g><g transform="translate(-4.20,-10.38) rotate(220)"><path d="M-11,1.5 Q0,-4.5 11,1.5" fill="none" stroke="#f8cf4a" stroke-width="15.5" stroke-linecap="round"/><path d="M-11,1.5 Q0,-4.5 11,1.5" fill="none" stroke="url(#st)" stroke-width="12.2" stroke-linecap="round"/></g></g><g transform="translate(759.1,521.6) rotate(-60.5) scale(1.000,0.979)"><g transform="translate(15.5,0) rotate(50)"><rect x="-16" y="-3.8" width="32" height="7.6" rx="3" fill="#fde2cf"/></g><g transform="translate(4.20,10.38) rotate(40)"><path d="M-11,1.5 Q0,-4.5 11,1.5" fill="none" stroke="#f8cf4a" stroke-width="15.5" stroke-linecap="round"/><path d="M-11,1.5 Q0,-4.5 11,1.5" fill="none" stroke="url(#st)" stroke-width="12.2" stroke-linecap="round"/></g><g transform="translate(-4.20,-10.38) rotate(220)"><path d="M-11,1.5 Q0,-4.5 11,1.5" fill="none" stroke="#f8cf4a" stroke-width="15.5" stroke-linecap="round"/><path d="M-11,1.5 Q0,-4.5 11,1.5" fill="none" stroke="url(#st)" stroke-width="12.2" stroke-linecap="round"/></g></g><g transform="translate(773.9,495.4) rotate(-60.5) scale(1.000,0.979)"><g transform="translate(15.5,0) rotate(50)"><rect x="-16" y="-3.8" width="32" height="7.6" rx="3" fill="#fde2cf"/></g><g transform="translate(4.20,10.38) rotate(40)"><path d="M-11,1.5 Q0,-4.5 11,1.5" fill="none" stroke="#f8cf4a" stroke-width="15.5" stroke-linecap="round"/><path d="M-11,1.5 Q0,-4.5 11,1.5" fill="none" stroke="url(#st)" stroke-width="12.2" stroke-linecap="round"/></g><g transform="translate(-4.20,-10.38) rotate(220)"><path d="M-11,1.5 Q0,-4.5 11,1.5" fill="none" stroke="#f8cf4a" stroke-width="15.5" stroke-linecap="round"/><path d="M-11,1.5 Q0,-4.5 11,1.5" fill="none" stroke="url(#st)" stroke-width="12.2" stroke-linecap="round"/></g></g><g transform="translate(788.8,469.2) rotate(-60.5) scale(1.000,0.979)"><g transform="translate(15.5,0) rotate(50)"><rect x="-16" y="-3.8" width="32" height="7.6" rx="3" fill="#fde2cf"/></g><g transform="translate(4.20,10.38) rotate(40)"><path d="M-11,1.5 Q0,-4.5 11,1.5" fill="none" stroke="#f8cf4a" stroke-width="15.5" stroke-linecap="round"/><path d="M-11,1.5 Q0,-4.5 11,1.5" fill="none" stroke="url(#st)" stroke-width="12.2" stroke-linecap="round"/></g><g transform="translate(-4.20,-10.38) rotate(220)"><path d="M-11,1.5 Q0,-4.5 11,1.5" fill="none" stroke="#f8cf4a" stroke-width="15.5" stroke-linecap="round"/><path d="M-11,1.5 Q0,-4.5 11,1.5" fill="none" stroke="url(#st)" stroke-width="12.2" stroke-linecap="round"/></g></g><g transform="translate(803.6,443.1) rotate(-60.5) scale(1.000,0.979)"><g transform="translate(15.5,0) rotate(50)"><rect x="-16" y="-3.8" width="32" height="7.6" rx="3" fill="#fde2cf"/></g><g transform="translate(4.20,10.38) rotate(40)"><path d="M-11,1.5 Q0,-4.5 11,1.5" fill="none" stroke="#f8cf4a" stroke-width="15.5" stroke-linecap="round"/><path d="M-11,1.5 Q0,-4.5 11,1.5" fill="none" stroke="url(#st)" stroke-width="12.2" stroke-linecap="round"/></g><g transform="translate(-4.20,-10.38) rotate(220)"><path d="M-11,1.5 Q0,-4.5 11,1.5" fill="none" stroke="#f8cf4a" stroke-width="15.5" stroke-linecap="round"/><path d="M-11,1.5 Q0,-4.5 11,1.5" fill="none" stroke="url(#st)" stroke-width="12.2" stroke-linecap="round"/></g></g></g><g stroke="#f3b41c" stroke-width="3.2" stroke-linecap="round" fill="none"><path d="M610.5,450 L607.5,474"/><path d="M658,496 L671,482"/><path d="M593,500 L586,500"/><path d="M658,503 L664,503"/><path d="M644,531 L648,531"/></g><g fill="#f3b41c" stroke="#e9a112" stroke-width="0.6"><circle cx="610.5" cy="450" r="2.2"/><circle cx="671" cy="482" r="2.2"/><circle cx="585.5" cy="500" r="3.8"/><circle cx="664.5" cy="503" r="3.5"/><circle cx="648.5" cy="531" r="3.4"/><circle cx="576" cy="534" r="3"/></g><g transform="translate(616.5,520) rotate(26.6)"><rect x="-29.5" y="-39" width="59" height="78" rx="2" fill="#f3b41c"/><rect x="-27" y="-39" width="54" height="78" fill="#f3b41c" stroke="#e9a112" stroke-width="1.2"/><rect x="-24.5" y="-36.5" width="49" height="6.5" fill="url(#st)"/><line x1="-26" y1="-28.8" x2="26" y2="-28.8" stroke="#e9a112" stroke-width="1.6"/><rect x="-24" y="-27" width="48" height="51" fill="url(#st)"/><rect x="-8.5" y="-26.5" width="17" height="17" fill="none" stroke="#f3b41c" stroke-width="2.2"/><circle cx="0" cy="-20" r="3.8" fill="#fffef9" stroke="#e3d6b0" stroke-width="0.6"/><line x1="-26" y1="25.5" x2="26" y2="25.5" stroke="#e9a112" stroke-width="1.6"/><rect x="-24.5" y="27.5" width="49" height="7.5" fill="url(#st)"/></g><path d="M268.7,165 V263 H502.7" fill="none" stroke="#050505" stroke-width="4.6"/><path d="M182.8,444 V542 H325.2" fill="none" stroke="#050505" stroke-width="4.6"/><path d="M593.2,410.6 L707.6,194.8 C725.6,160.8 662.0,80.0 600.4,186.7 L313.1,684.0 C248.2,796.4 378.1,816.5 407.4,761.2 L523.7,541.8" fill="none" stroke="#050505" stroke-width="3.6" stroke-linejoin="round"/><path d="M688.8,575.8 L680,591 L728,619.4 L737.2,604.6" fill="none" stroke="#050505" stroke-width="3.6"/></svg>
<div class="t" style="left:217.15px;top:85.57px;font-size:33px;transform:scaleX(0.9937)">Austrian</div>
<div class="t" style="left:190.12px;top:120.87px;font-size:33px;transform:scaleX(1.0133)">rhinestone</div>
<div class="t" style="left:137.54px;top:356.87px;font-size:33px;transform:scaleX(0.965)">316L stainless</div>
<div class="t" style="left:110.82px;top:393.27px;font-size:33px;transform:scaleX(1.0209)">gold plated</div>
<div class="t" style="left:486.48px;top:444.95px;font-size:22.5px;transform:scaleX(1.0526)">60cm</div>
<div class="t" style="left:467.04px;top:470.75px;font-size:22.5px;transform:scaleX(1.0425)">(24inches)</div>
<div class="t" style="left:665.25px;top:619.84px;font-size:27px;transform:scaleX(1.0237)">1.3cm</div>
<div class="t" style="left:642.13px;top:649.84px;font-size:27px;transform:scaleX(1.0092)">(0.5inches)</div>
<div class="t" style="left:408.2px;top:919.6px;font-size:43px;transform:scaleX(1.0014)">Net weight:137g/piece</div>
</body></html>
